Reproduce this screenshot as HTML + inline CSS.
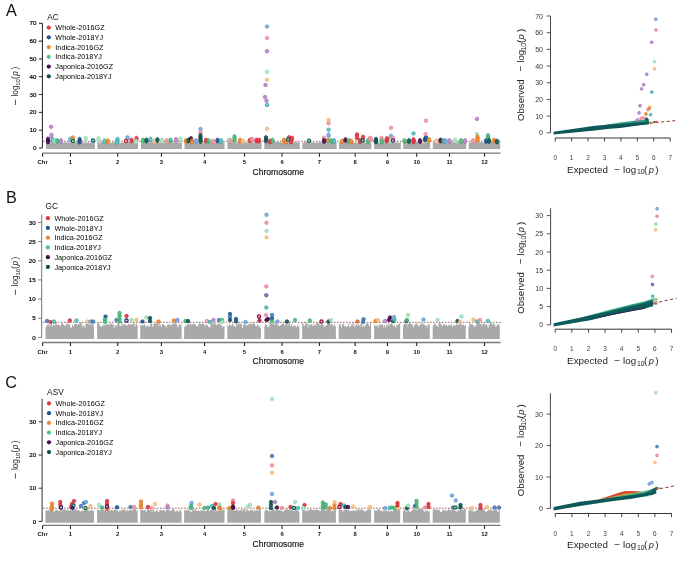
<!DOCTYPE html>
<html><head><meta charset="utf-8"><title>GWAS Manhattan and QQ plots</title>
<style>html,body{margin:0;padding:0;background:#fff;}body{width:685px;height:561px;overflow:hidden;font-family:"Liberation Sans",sans-serif;}svg{display:block;will-change:transform;filter:blur(0.35px);}</style>
</head><body>
<svg width="685" height="561" viewBox="0 0 685 561" font-family='"Liberation Sans", sans-serif'>
<rect width="685" height="561" fill="#ffffff"/>
<text x="5.9" y="16.0" font-size="16.2" text-anchor="start" font-weight="normal" fill="#111" >A</text>
<text x="6.0" y="202.8" font-size="16.2" text-anchor="start" font-weight="normal" fill="#111" >B</text>
<text x="5.3" y="388.3" font-size="16.2" text-anchor="start" font-weight="normal" fill="#111" >C</text>
<polygon points="46.00,149.0 46.00,142.27 46.48,142.27 46.48,142.43 46.99,142.43 46.99,142.44 47.53,142.44 47.53,142.29 48.64,142.29 48.64,142.36 49.77,142.36 49.77,142.41 50.43,142.41 50.43,142.44 51.09,142.44 51.09,142.77 51.95,142.77 51.95,142.65 52.78,142.65 52.78,142.37 53.38,142.37 53.38,142.48 54.05,142.48 54.05,142.28 54.71,142.28 54.71,142.48 55.33,142.48 55.33,142.41 56.39,142.41 56.39,142.50 57.53,142.50 57.53,142.18 58.51,142.18 58.51,142.14 58.98,142.14 58.98,142.27 59.83,142.27 59.83,142.35 60.77,142.35 60.77,142.30 61.54,142.30 61.54,142.61 62.32,142.61 62.32,142.46 63.26,142.46 63.26,142.52 64.29,142.52 64.29,142.33 65.21,142.33 65.21,142.15 65.77,142.15 65.77,142.20 66.76,142.20 66.76,142.42 67.49,142.42 67.49,142.86 68.25,142.86 68.25,142.57 69.27,142.57 69.27,142.84 70.01,142.84 70.01,142.39 71.13,142.39 71.13,142.11 71.75,142.11 71.75,142.19 72.61,142.19 72.61,143.16 73.32,143.16 73.32,142.40 74.25,142.40 74.25,142.31 75.17,142.31 75.17,142.16 76.17,142.16 76.17,142.40 76.90,142.40 76.90,142.10 77.79,142.10 77.79,142.11 78.39,142.11 78.39,142.22 78.87,142.22 78.87,142.21 79.39,142.21 79.39,143.61 80.27,143.61 80.27,142.28 80.97,142.28 80.97,142.37 82.01,142.37 82.01,142.70 82.80,142.70 82.80,142.20 83.49,142.20 83.49,142.40 84.05,142.40 84.05,142.44 84.87,142.44 84.87,142.42 85.34,142.42 85.34,142.55 86.40,142.55 86.40,142.69 87.10,142.69 87.10,142.31 87.92,142.31 87.92,142.46 88.53,142.46 88.53,142.51 89.58,142.51 89.58,142.65 90.55,142.65 90.55,142.24 91.24,142.24 91.24,143.02 91.88,143.02 91.88,142.45 92.64,142.45 92.64,142.57 93.76,142.57 93.76,142.10 94.37,142.10 94.37,142.10 94.90,142.10 94.90,149.0" fill="#a9a9a9"/>
<polygon points="97.30,149.0 97.30,142.54 98.30,142.54 98.30,142.53 98.87,142.53 98.87,142.56 99.88,142.56 99.88,142.85 100.61,142.85 100.61,142.77 101.18,142.77 101.18,142.13 102.27,142.13 102.27,142.30 103.30,142.30 103.30,142.62 103.99,142.62 103.99,142.33 104.45,142.33 104.45,142.70 105.27,142.70 105.27,142.71 106.33,142.71 106.33,142.70 106.96,142.70 106.96,142.31 107.82,142.31 107.82,142.21 108.36,142.21 108.36,142.69 109.13,142.69 109.13,142.61 109.87,142.61 109.87,142.90 110.70,142.90 110.70,143.18 111.27,143.18 111.27,142.27 111.84,142.27 111.84,142.35 112.68,142.35 112.68,142.23 113.52,142.23 113.52,142.41 114.36,142.41 114.36,142.11 115.36,142.11 115.36,142.37 116.34,142.37 116.34,142.62 117.22,142.62 117.22,142.14 118.15,142.14 118.15,142.20 118.94,142.20 118.94,142.73 120.00,142.73 120.00,142.81 120.84,142.81 120.84,142.90 121.39,142.90 121.39,142.45 121.89,142.45 121.89,142.45 122.81,142.45 122.81,142.58 123.36,142.58 123.36,142.46 123.91,142.46 123.91,142.66 124.52,142.66 124.52,142.85 125.31,142.85 125.31,142.90 125.87,142.90 125.87,142.38 126.56,142.38 126.56,142.17 127.51,142.17 127.51,142.10 128.27,142.10 128.27,142.10 129.16,142.10 129.16,142.13 130.30,142.13 130.30,142.54 130.82,142.54 130.82,142.34 131.82,142.34 131.82,142.29 132.56,142.29 132.56,142.61 133.19,142.61 133.19,142.19 134.04,142.19 134.04,142.60 134.53,142.60 134.53,142.63 135.04,142.63 135.04,142.87 136.05,142.87 136.05,142.42 136.54,142.42 136.54,142.86 137.23,142.86 137.23,142.55 137.87,142.55 137.87,142.22 138.10,142.22 138.10,149.0" fill="#a9a9a9"/>
<polygon points="141.00,149.0 141.00,142.54 141.80,142.54 141.80,142.33 142.26,142.33 142.26,143.47 143.10,143.47 143.10,142.18 144.20,142.18 144.20,142.24 144.96,142.24 144.96,142.39 145.68,142.39 145.68,142.38 146.82,142.38 146.82,142.51 147.76,142.51 147.76,142.73 148.46,142.73 148.46,142.37 148.96,142.37 148.96,142.60 149.52,142.60 149.52,142.28 150.58,142.28 150.58,142.45 151.20,142.45 151.20,142.14 151.76,142.14 151.76,142.18 152.88,142.18 152.88,142.78 153.50,142.78 153.50,142.77 154.20,142.77 154.20,142.14 154.99,142.14 154.99,142.22 155.79,142.22 155.79,142.10 156.30,142.10 156.30,142.15 156.77,142.15 156.77,142.10 157.63,142.10 157.63,142.16 158.54,142.16 158.54,142.53 159.26,142.53 159.26,142.40 159.81,142.40 159.81,142.62 160.30,142.62 160.30,142.70 161.18,142.70 161.18,142.67 161.73,142.67 161.73,142.53 162.77,142.53 162.77,142.58 163.63,142.58 163.63,142.68 164.56,142.68 164.56,142.44 165.10,142.44 165.10,142.49 166.14,142.49 166.14,142.49 167.03,142.49 167.03,142.58 167.48,142.58 167.48,142.64 168.28,142.64 168.28,142.25 168.78,142.25 168.78,142.29 169.28,142.29 169.28,142.10 169.87,142.10 169.87,142.36 170.67,142.36 170.67,142.22 171.60,142.22 171.60,142.44 172.50,142.44 172.50,142.19 173.13,142.19 173.13,142.55 173.97,142.55 173.97,142.13 174.61,142.13 174.61,142.29 175.53,142.29 175.53,142.20 176.31,142.20 176.31,142.41 177.39,142.41 177.39,142.34 178.49,142.34 178.49,142.48 179.51,142.48 179.51,142.90 180.15,142.90 180.15,142.30 180.75,142.30 180.75,142.40 181.57,142.40 181.57,142.76 181.90,142.76 181.90,149.0" fill="#a9a9a9"/>
<polygon points="184.50,149.0 184.50,143.23 185.27,143.23 185.27,142.47 185.96,142.47 185.96,142.49 186.41,142.49 186.41,142.72 186.94,142.72 186.94,142.88 188.02,142.88 188.02,142.39 188.75,142.39 188.75,142.73 189.45,142.73 189.45,142.22 189.93,142.22 189.93,142.19 190.58,142.19 190.58,142.80 191.22,142.80 191.22,142.43 191.93,142.43 191.93,142.66 192.95,142.66 192.95,142.31 194.06,142.31 194.06,142.15 194.54,142.15 194.54,142.25 195.52,142.25 195.52,142.38 196.00,142.38 196.00,142.75 196.78,142.75 196.78,142.32 197.75,142.32 197.75,142.67 198.66,142.67 198.66,142.26 199.39,142.26 199.39,142.25 199.98,142.25 199.98,142.70 200.59,142.70 200.59,142.80 201.35,142.80 201.35,142.52 201.87,142.52 201.87,142.57 202.48,142.57 202.48,142.40 203.55,142.40 203.55,142.54 204.29,142.54 204.29,142.43 204.98,142.43 204.98,142.27 206.11,142.27 206.11,142.27 207.00,142.27 207.00,142.72 207.64,142.72 207.64,142.20 208.40,142.20 208.40,142.47 209.46,142.47 209.46,142.10 210.41,142.10 210.41,142.58 211.27,142.58 211.27,142.13 212.37,142.13 212.37,142.61 213.50,142.61 213.50,142.11 214.06,142.11 214.06,142.22 215.17,142.22 215.17,142.64 216.15,142.64 216.15,142.53 216.63,142.53 216.63,142.72 217.72,142.72 217.72,142.63 218.26,142.63 218.26,142.38 219.20,142.38 219.20,142.20 220.02,142.20 220.02,142.47 220.62,142.47 220.62,143.04 221.40,143.04 221.40,142.88 222.47,142.88 222.47,142.28 223.09,142.28 223.09,142.64 223.75,142.64 223.75,142.10 224.60,142.10 224.60,149.0" fill="#a9a9a9"/>
<polygon points="227.40,149.0 227.40,142.15 228.33,142.15 228.33,142.27 229.30,142.27 229.30,142.41 230.42,142.41 230.42,142.19 231.04,142.19 231.04,142.22 231.69,142.22 231.69,142.80 232.27,142.80 232.27,142.36 233.19,142.36 233.19,142.83 233.91,142.83 233.91,142.40 234.46,142.40 234.46,142.44 235.19,142.44 235.19,142.87 236.15,142.87 236.15,142.72 236.83,142.72 236.83,142.10 237.80,142.10 237.80,142.10 238.52,142.10 238.52,142.13 239.09,142.13 239.09,142.10 239.78,142.10 239.78,142.59 240.91,142.59 240.91,142.34 241.93,142.34 241.93,142.69 242.42,142.69 242.42,142.37 243.51,142.37 243.51,142.26 244.59,142.26 244.59,142.33 245.61,142.33 245.61,142.61 246.08,142.61 246.08,142.30 246.71,142.30 246.71,142.68 247.40,142.68 247.40,142.44 248.28,142.44 248.28,142.26 248.95,142.26 248.95,143.50 250.05,143.50 250.05,142.24 250.51,142.24 250.51,142.10 251.63,142.10 251.63,142.54 252.26,142.54 252.26,142.20 253.36,142.20 253.36,142.38 254.32,142.38 254.32,142.76 255.20,142.76 255.20,142.33 255.90,142.33 255.90,142.62 256.49,142.62 256.49,142.63 256.99,142.63 256.99,142.31 257.66,142.31 257.66,142.79 258.81,142.79 258.81,142.30 259.32,142.30 259.32,142.46 260.09,142.46 260.09,142.36 260.97,142.36 260.97,142.39 261.60,142.39 261.60,149.0" fill="#a9a9a9"/>
<polygon points="264.30,149.0 264.30,142.45 264.92,142.45 264.92,142.10 265.99,142.10 265.99,142.28 266.72,142.28 266.72,142.82 267.33,142.82 267.33,142.69 268.48,142.69 268.48,142.38 269.50,142.38 269.50,142.84 269.98,142.84 269.98,142.43 270.56,142.43 270.56,142.77 271.66,142.77 271.66,142.33 272.42,142.33 272.42,142.40 273.54,142.40 273.54,142.30 274.42,142.30 274.42,142.31 274.97,142.31 274.97,142.29 275.84,142.29 275.84,142.33 276.30,142.33 276.30,142.10 276.88,142.10 276.88,142.10 277.88,142.10 277.88,142.28 278.40,142.28 278.40,142.24 279.30,142.24 279.30,142.14 280.24,142.14 280.24,142.31 280.90,142.31 280.90,142.74 281.75,142.74 281.75,142.18 282.81,142.18 282.81,142.72 283.39,142.72 283.39,142.61 283.85,142.61 283.85,142.85 284.87,142.85 284.87,142.49 285.64,142.49 285.64,143.29 286.54,143.29 286.54,142.88 287.43,142.88 287.43,142.29 287.98,142.29 287.98,142.18 289.08,142.18 289.08,142.28 290.09,142.28 290.09,142.79 290.63,142.79 290.63,142.70 291.42,142.70 291.42,142.19 292.14,142.19 292.14,142.61 293.17,142.61 293.17,142.10 293.77,142.10 293.77,142.10 294.80,142.10 294.80,142.17 295.53,142.17 295.53,142.37 296.07,142.37 296.07,142.24 297.15,142.24 297.15,142.28 298.13,142.28 298.13,142.27 298.66,142.27 298.66,142.39 299.55,142.39 299.55,142.25 299.80,142.25 299.80,149.0" fill="#a9a9a9"/>
<polygon points="302.30,149.0 302.30,142.41 303.28,142.41 303.28,142.45 303.86,142.45 303.86,142.24 304.40,142.24 304.40,142.18 305.16,142.18 305.16,142.10 306.05,142.10 306.05,142.10 307.05,142.10 307.05,142.35 307.85,142.35 307.85,142.25 308.40,142.25 308.40,142.60 309.36,142.60 309.36,142.67 310.50,142.67 310.50,142.30 311.59,142.30 311.59,142.25 312.69,142.25 312.69,142.32 313.67,142.32 313.67,142.35 314.31,142.35 314.31,142.83 315.11,142.83 315.11,142.90 315.75,142.90 315.75,142.47 316.22,142.47 316.22,142.26 317.33,142.26 317.33,142.46 317.90,142.46 317.90,142.45 318.72,142.45 318.72,142.18 319.78,142.18 319.78,142.27 320.85,142.27 320.85,142.13 321.74,142.13 321.74,142.24 322.37,142.24 322.37,142.81 323.08,142.81 323.08,142.58 323.65,142.58 323.65,142.47 324.67,142.47 324.67,142.20 325.81,142.20 325.81,142.45 326.48,142.45 326.48,142.23 327.04,142.23 327.04,142.52 327.84,142.52 327.84,142.90 328.45,142.90 328.45,142.74 329.15,142.74 329.15,142.38 329.76,142.38 329.76,142.53 330.35,142.53 330.35,142.56 330.90,142.56 330.90,142.76 331.45,142.76 331.45,142.12 332.51,142.12 332.51,142.36 333.15,142.36 333.15,142.10 333.99,142.10 333.99,142.16 334.75,142.16 334.75,142.57 335.37,142.57 335.37,142.64 336.20,142.64 336.20,142.35 336.60,142.35 336.60,149.0" fill="#a9a9a9"/>
<polygon points="339.00,149.0 339.00,142.19 339.90,142.19 339.90,142.46 340.57,142.46 340.57,142.18 341.64,142.18 341.64,142.57 342.09,142.57 342.09,142.74 342.87,142.74 342.87,142.80 343.48,142.80 343.48,142.48 343.95,142.48 343.95,142.45 344.89,142.45 344.89,142.69 345.53,142.69 345.53,142.46 346.53,142.46 346.53,142.33 347.43,142.33 347.43,142.60 348.49,142.60 348.49,142.22 349.11,142.22 349.11,142.55 350.08,142.55 350.08,142.18 350.76,142.18 350.76,142.13 351.65,142.13 351.65,142.42 352.79,142.42 352.79,142.21 353.73,142.21 353.73,142.59 354.68,142.59 354.68,142.60 355.28,142.60 355.28,142.68 356.37,142.68 356.37,142.85 357.47,142.85 357.47,142.45 357.94,142.45 357.94,142.32 358.83,142.32 358.83,142.35 359.33,142.35 359.33,142.20 360.35,142.20 360.35,142.47 360.85,142.47 360.85,142.55 361.96,142.55 361.96,142.11 362.49,142.11 362.49,142.14 363.51,142.14 363.51,142.51 364.40,142.51 364.40,142.26 364.92,142.26 364.92,142.46 365.59,142.46 365.59,143.00 366.24,143.00 366.24,142.56 366.91,142.56 366.91,142.87 367.96,142.87 367.96,142.54 368.70,142.54 368.70,142.50 369.39,142.50 369.39,142.72 369.99,142.72 369.99,142.79 371.02,142.79 371.02,142.94 371.30,142.94 371.30,149.0" fill="#a9a9a9"/>
<polygon points="374.10,149.0 374.10,142.25 375.13,142.25 375.13,142.10 375.78,142.10 375.78,142.10 376.58,142.10 376.58,142.14 377.09,142.14 377.09,142.61 378.09,142.61 378.09,142.49 378.82,142.49 378.82,142.26 379.33,142.26 379.33,142.95 379.96,142.95 379.96,142.70 380.68,142.70 380.68,142.73 381.45,142.73 381.45,142.46 382.43,142.46 382.43,142.67 383.11,142.67 383.11,142.52 384.02,142.52 384.02,142.64 384.78,142.64 384.78,142.47 385.32,142.47 385.32,142.24 385.93,142.24 385.93,142.20 386.87,142.20 386.87,142.60 387.43,142.60 387.43,142.19 388.25,142.19 388.25,142.17 388.83,142.17 388.83,142.70 389.35,142.70 389.35,142.64 390.07,142.64 390.07,142.53 391.03,142.53 391.03,142.10 391.93,142.10 391.93,142.24 392.65,142.24 392.65,142.34 393.66,142.34 393.66,142.56 394.55,142.56 394.55,142.43 395.42,142.43 395.42,142.40 396.51,142.40 396.51,142.35 397.48,142.35 397.48,142.51 398.44,142.51 398.44,142.89 399.38,142.89 399.38,142.62 400.28,142.62 400.28,142.21 400.80,142.21 400.80,149.0" fill="#a9a9a9"/>
<polygon points="403.20,149.0 403.20,142.21 404.09,142.21 404.09,142.20 405.19,142.20 405.19,142.10 406.18,142.10 406.18,142.12 407.31,142.12 407.31,142.36 407.88,142.36 407.88,142.77 408.69,142.77 408.69,142.37 409.52,142.37 409.52,142.62 410.42,142.62 410.42,142.72 411.15,142.72 411.15,142.76 412.08,142.76 412.08,142.30 412.62,142.30 412.62,142.84 413.11,142.84 413.11,142.41 413.57,142.41 413.57,142.46 414.51,142.46 414.51,142.22 415.11,142.22 415.11,142.35 415.93,142.35 415.93,142.10 416.66,142.10 416.66,142.10 417.65,142.10 417.65,142.40 418.43,142.40 418.43,142.38 419.55,142.38 419.55,142.42 420.58,142.42 420.58,142.58 421.23,142.58 421.23,142.38 422.27,142.38 422.27,142.40 422.90,142.40 422.90,142.41 423.65,142.41 423.65,143.46 424.30,143.46 424.30,142.45 425.08,142.45 425.08,142.53 425.99,142.53 425.99,142.27 427.04,142.27 427.04,142.10 428.13,142.10 428.13,142.45 429.16,142.45 429.16,142.75 430.20,142.75 430.20,149.0" fill="#a9a9a9"/>
<polygon points="432.80,149.0 432.80,142.10 433.88,142.10 433.88,142.40 434.96,142.40 434.96,142.27 435.87,142.27 435.87,142.74 436.91,142.74 436.91,142.29 437.73,142.29 437.73,142.54 438.80,142.54 438.80,142.46 439.42,142.46 439.42,142.21 439.91,142.21 439.91,142.30 440.70,142.30 440.70,142.47 441.75,142.47 441.75,142.43 442.53,142.43 442.53,142.56 443.57,142.56 443.57,142.52 444.69,142.52 444.69,142.19 445.59,142.19 445.59,142.11 446.52,142.11 446.52,142.63 447.65,142.63 447.65,142.22 448.73,142.22 448.73,142.25 449.62,142.25 449.62,142.21 450.32,142.21 450.32,142.18 451.31,142.18 451.31,142.13 452.06,142.13 452.06,142.20 452.72,142.20 452.72,142.39 453.52,142.39 453.52,142.25 454.65,142.25 454.65,142.57 455.33,142.57 455.33,142.39 456.19,142.39 456.19,142.67 456.67,142.67 456.67,142.72 457.50,142.72 457.50,142.26 457.96,142.26 457.96,142.24 458.83,142.24 458.83,142.55 459.92,142.55 459.92,142.48 460.81,142.48 460.81,142.60 461.73,142.60 461.73,142.43 462.51,142.43 462.51,142.56 463.08,142.56 463.08,142.14 464.17,142.14 464.17,142.35 465.20,142.35 465.20,142.29 465.83,142.29 465.83,142.10 466.20,142.10 466.20,149.0" fill="#a9a9a9"/>
<polygon points="468.80,149.0 468.80,142.20 469.65,142.20 469.65,142.76 470.11,142.76 470.11,142.39 471.22,142.39 471.22,142.79 471.96,142.79 471.96,142.26 472.56,142.26 472.56,142.74 473.48,142.74 473.48,142.11 474.00,142.11 474.00,142.40 474.46,142.40 474.46,142.21 475.42,142.21 475.42,142.10 476.41,142.10 476.41,142.47 477.38,142.47 477.38,142.15 478.32,142.15 478.32,142.29 478.95,142.29 478.95,142.72 479.41,142.72 479.41,142.17 480.43,142.17 480.43,142.10 481.39,142.10 481.39,142.29 482.18,142.29 482.18,142.46 483.03,142.46 483.03,142.55 483.58,142.55 483.58,142.72 484.49,142.72 484.49,142.54 485.21,142.54 485.21,142.67 486.21,142.67 486.21,142.42 486.70,142.42 486.70,142.75 487.73,142.75 487.73,142.41 488.86,142.41 488.86,142.73 489.53,142.73 489.53,142.28 490.24,142.28 490.24,142.30 491.32,142.30 491.32,142.42 491.77,142.42 491.77,142.11 492.63,142.11 492.63,142.42 493.11,142.42 493.11,142.46 494.17,142.46 494.17,142.41 495.21,142.41 495.21,142.54 496.30,142.54 496.30,142.10 497.14,142.10 497.14,142.49 498.11,142.49 498.11,142.78 498.99,142.78 498.99,142.59 499.58,142.59 499.58,142.40 500.20,142.40 500.20,149.0" fill="#a9a9a9"/>
<line x1="43" y1="141.3" x2="501.2" y2="141.3" stroke="#8c4038" stroke-width="0.8" stroke-dasharray="1.6,1.4"/>
<line x1="42.4" y1="23.3" x2="42.4" y2="148.0" stroke="#222" stroke-width="1"/>
<line x1="38.9" y1="148.00" x2="42.4" y2="148.00" stroke="#222" stroke-width="1"/>
<text x="36.4" y="150.1" font-size="6.2" text-anchor="end" font-weight="normal" fill="#000" stroke="#000" stroke-width="0.2">0</text>
<line x1="38.9" y1="130.19" x2="42.4" y2="130.19" stroke="#222" stroke-width="1"/>
<text x="36.4" y="132.28571428571428" font-size="6.2" text-anchor="end" font-weight="normal" fill="#000" stroke="#000" stroke-width="0.2">10</text>
<line x1="38.9" y1="112.37" x2="42.4" y2="112.37" stroke="#222" stroke-width="1"/>
<text x="36.4" y="114.47142857142856" font-size="6.2" text-anchor="end" font-weight="normal" fill="#000" stroke="#000" stroke-width="0.2">20</text>
<line x1="38.9" y1="94.56" x2="42.4" y2="94.56" stroke="#222" stroke-width="1"/>
<text x="36.4" y="96.65714285714284" font-size="6.2" text-anchor="end" font-weight="normal" fill="#000" stroke="#000" stroke-width="0.2">30</text>
<line x1="38.9" y1="76.74" x2="42.4" y2="76.74" stroke="#222" stroke-width="1"/>
<text x="36.4" y="78.84285714285714" font-size="6.2" text-anchor="end" font-weight="normal" fill="#000" stroke="#000" stroke-width="0.2">40</text>
<line x1="38.9" y1="58.93" x2="42.4" y2="58.93" stroke="#222" stroke-width="1"/>
<text x="36.4" y="61.02857142857143" font-size="6.2" text-anchor="end" font-weight="normal" fill="#000" stroke="#000" stroke-width="0.2">50</text>
<line x1="38.9" y1="41.11" x2="42.4" y2="41.11" stroke="#222" stroke-width="1"/>
<text x="36.4" y="43.214285714285715" font-size="6.2" text-anchor="end" font-weight="normal" fill="#000" stroke="#000" stroke-width="0.2">60</text>
<line x1="38.9" y1="23.30" x2="42.4" y2="23.30" stroke="#222" stroke-width="1"/>
<text x="36.4" y="25.400000000000013" font-size="6.2" text-anchor="end" font-weight="normal" fill="#000" stroke="#000" stroke-width="0.2">70</text>
<line x1="42.6" y1="153.2" x2="500.6" y2="153.2" stroke="#7a7a7a" stroke-width="1.3"/>
<line x1="42.60" y1="153.2" x2="42.60" y2="156.7" stroke="#222" stroke-width="1.1"/>
<text transform="translate(42.60,164.20) scale(0.95,1)" font-size="6.2" text-anchor="middle" font-weight="bold" fill="#111">Chr</text>
<line x1="70.45" y1="153.2" x2="70.45" y2="156.7" stroke="#222" stroke-width="1.1"/>
<text transform="translate(70.45,164.20) scale(0.95,1)" font-size="6.2" text-anchor="middle" font-weight="bold" fill="#111">1</text>
<line x1="117.70" y1="153.2" x2="117.70" y2="156.7" stroke="#222" stroke-width="1.1"/>
<text transform="translate(117.70,164.20) scale(0.95,1)" font-size="6.2" text-anchor="middle" font-weight="bold" fill="#111">2</text>
<line x1="161.45" y1="153.2" x2="161.45" y2="156.7" stroke="#222" stroke-width="1.1"/>
<text transform="translate(161.45,164.20) scale(0.95,1)" font-size="6.2" text-anchor="middle" font-weight="bold" fill="#111">3</text>
<line x1="204.55" y1="153.2" x2="204.55" y2="156.7" stroke="#222" stroke-width="1.1"/>
<text transform="translate(204.55,164.20) scale(0.95,1)" font-size="6.2" text-anchor="middle" font-weight="bold" fill="#111">4</text>
<line x1="244.50" y1="153.2" x2="244.50" y2="156.7" stroke="#222" stroke-width="1.1"/>
<text transform="translate(244.50,164.20) scale(0.95,1)" font-size="6.2" text-anchor="middle" font-weight="bold" fill="#111">5</text>
<line x1="282.05" y1="153.2" x2="282.05" y2="156.7" stroke="#222" stroke-width="1.1"/>
<text transform="translate(282.05,164.20) scale(0.95,1)" font-size="6.2" text-anchor="middle" font-weight="bold" fill="#111">6</text>
<line x1="319.45" y1="153.2" x2="319.45" y2="156.7" stroke="#222" stroke-width="1.1"/>
<text transform="translate(319.45,164.20) scale(0.95,1)" font-size="6.2" text-anchor="middle" font-weight="bold" fill="#111">7</text>
<line x1="355.15" y1="153.2" x2="355.15" y2="156.7" stroke="#222" stroke-width="1.1"/>
<text transform="translate(355.15,164.20) scale(0.95,1)" font-size="6.2" text-anchor="middle" font-weight="bold" fill="#111">8</text>
<line x1="387.45" y1="153.2" x2="387.45" y2="156.7" stroke="#222" stroke-width="1.1"/>
<text transform="translate(387.45,164.20) scale(0.95,1)" font-size="6.2" text-anchor="middle" font-weight="bold" fill="#111">9</text>
<line x1="416.70" y1="153.2" x2="416.70" y2="156.7" stroke="#222" stroke-width="1.1"/>
<text transform="translate(416.70,164.20) scale(0.95,1)" font-size="6.2" text-anchor="middle" font-weight="bold" fill="#111">10</text>
<line x1="449.50" y1="153.2" x2="449.50" y2="156.7" stroke="#222" stroke-width="1.1"/>
<text transform="translate(449.50,164.20) scale(0.95,1)" font-size="6.2" text-anchor="middle" font-weight="bold" fill="#111">11</text>
<line x1="484.50" y1="153.2" x2="484.50" y2="156.7" stroke="#222" stroke-width="1.1"/>
<text transform="translate(484.50,164.20) scale(0.95,1)" font-size="6.2" text-anchor="middle" font-weight="bold" fill="#111">12</text>
<text transform="translate(278.2,174.80) scale(0.955,1)" font-size="9.0" text-anchor="middle" fill="#111" stroke="#111" stroke-width="0.15">Chromosome</text>
<g transform="translate(18.1,105.10) rotate(-90)" fill="#222">
<line x1="0.1" y1="-2.7" x2="5.4" y2="-2.7" stroke="#333" stroke-width="0.85"/>
<text x="8.6" y="0" font-size="8.3">log</text>
<text x="19.4" y="1.5" font-size="5.9">10</text>
<text x="26.2" y="0" font-size="8.2">(</text>
<text x="29.4" y="0" font-size="8.2" font-style="italic">p</text>
<text x="35.5" y="0" font-size="8.2">)</text>
</g>
<text x="47.3" y="19.9" font-size="8.3" text-anchor="start" font-weight="normal" fill="#111" >AC</text>
<circle cx="48.8" cy="27.60" r="2.1" fill="#e0363c"/>
<text x="55.3" y="30.200000000000003" font-size="7.2" text-anchor="start" font-weight="normal" fill="#000" letter-spacing="0.05">Whole-2016GZ</text>
<circle cx="48.8" cy="37.34" r="2.1" fill="#1d5293"/>
<text x="55.3" y="39.940000000000005" font-size="7.2" text-anchor="start" font-weight="normal" fill="#000" letter-spacing="0.05">Whole-2018YJ</text>
<circle cx="48.8" cy="47.08" r="2.1" fill="#e48b32"/>
<text x="55.3" y="49.68" font-size="7.2" text-anchor="start" font-weight="normal" fill="#000" letter-spacing="0.05">Indica-2016GZ</text>
<circle cx="48.8" cy="56.82" r="2.1" fill="#52c07e"/>
<text x="55.3" y="59.42" font-size="7.2" text-anchor="start" font-weight="normal" fill="#000" letter-spacing="0.05">Indica-2018YJ</text>
<circle cx="48.8" cy="66.56" r="2.1" fill="#3e0b46"/>
<text x="55.3" y="69.16" font-size="7.2" text-anchor="start" font-weight="normal" fill="#000" letter-spacing="0.05">Japonica-2016GZ</text>
<circle cx="48.8" cy="76.30" r="2.1" fill="#0c4a4c"/>
<text x="55.3" y="78.9" font-size="7.2" text-anchor="start" font-weight="normal" fill="#000" letter-spacing="0.05">Japonica-2018YJ</text>
<circle cx="51" cy="126.8" r="1.75" fill="#ba8ace" stroke="#9c6cb2" stroke-width="0.7" fill-opacity="0.92"/>
<ellipse cx="51.5" cy="135.48" rx="1.75" ry="2.55" fill="#ba8ace" stroke="#9c6cb2" stroke-width="0.7" fill-opacity="0.92"/>
<ellipse cx="48" cy="141.48" rx="1.75" ry="2.55" fill="#4c0f52" stroke="#3a0840" stroke-width="0.7" fill-opacity="0.92"/>
<ellipse cx="48" cy="139.48" rx="1.75" ry="2.55" fill="#4c0f52" stroke="#3a0840" stroke-width="0.7" fill-opacity="0.92"/>
<ellipse cx="52.5" cy="139.98" rx="1.75" ry="2.55" fill="#5cc8c8" stroke="#2c9c9c" stroke-width="0.7" fill-opacity="0.92"/>
<ellipse cx="55" cy="140.98" rx="1.75" ry="2.55" fill="#a8e6c2" stroke="#86d4a6" stroke-width="0.7" fill-opacity="0.92"/>
<ellipse cx="57.3" cy="140.98" rx="1.75" ry="2.55" fill="#4dbd7d" stroke="#35a566" stroke-width="0.7" fill-opacity="0.92"/>
<ellipse cx="60.8" cy="140.98" rx="1.75" ry="2.55" fill="#ba8ace" stroke="#9c6cb2" stroke-width="0.7" fill-opacity="0.92"/>
<ellipse cx="70.3" cy="139.48" rx="1.75" ry="2.55" fill="#7aaee4" stroke="#5b8ccb" stroke-width="0.7" fill-opacity="0.92"/>
<ellipse cx="72.8" cy="138.18" rx="1.75" ry="2.55" fill="#ee8b2c" stroke="#d8761c" stroke-width="0.7" fill-opacity="0.92"/>
<circle cx="73" cy="141" r="1.65" fill="#8ad6a0" stroke="#1f6a3a" stroke-width="1.1199999999999999" fill-opacity="0.92"/>
<ellipse cx="79.6" cy="139.68" rx="1.75" ry="2.55" fill="#1c5a9c" stroke="#134a84" stroke-width="0.7" fill-opacity="0.92"/>
<ellipse cx="79.6" cy="141.78" rx="1.75" ry="2.55" fill="#1c5a9c" stroke="#134a84" stroke-width="0.7" fill-opacity="0.92"/>
<ellipse cx="85.7" cy="138.48" rx="1.75" ry="2.55" fill="#a8e6c2" stroke="#86d4a6" stroke-width="0.7" fill-opacity="0.92"/>
<circle cx="93" cy="140.5" r="1.65" fill="#6fd6d6" stroke="#0e5a5a" stroke-width="1.1199999999999999" fill-opacity="0.92"/>
<ellipse cx="98.5" cy="138.98" rx="1.75" ry="2.55" fill="#a8e6c2" stroke="#86d4a6" stroke-width="0.7" fill-opacity="0.92"/>
<ellipse cx="104.5" cy="141.28" rx="1.75" ry="2.55" fill="#5cc8c8" stroke="#2c9c9c" stroke-width="0.7" fill-opacity="0.92"/>
<ellipse cx="107.8" cy="141.28" rx="1.75" ry="2.55" fill="#ee8b2c" stroke="#d8761c" stroke-width="0.7" fill-opacity="0.92"/>
<ellipse cx="117.5" cy="139.68" rx="1.75" ry="2.55" fill="#5cc8c8" stroke="#2c9c9c" stroke-width="0.7" fill-opacity="0.92"/>
<ellipse cx="117" cy="141.98" rx="1.75" ry="2.55" fill="#5cc8c8" stroke="#2c9c9c" stroke-width="0.7" fill-opacity="0.92"/>
<ellipse cx="127.5" cy="137.98" rx="1.75" ry="2.55" fill="#7aaee4" stroke="#5b8ccb" stroke-width="0.7" fill-opacity="0.92"/>
<circle cx="126" cy="141" r="1.65" fill="#f4b0b6" stroke="#b8283a" stroke-width="1.1199999999999999" fill-opacity="0.92"/>
<ellipse cx="131.5" cy="140.48" rx="1.75" ry="2.55" fill="#e8353d" stroke="#c92a32" stroke-width="0.7" fill-opacity="0.92"/>
<ellipse cx="136.5" cy="138.68" rx="1.75" ry="2.55" fill="#e8353d" stroke="#c92a32" stroke-width="0.7" fill-opacity="0.92"/>
<ellipse cx="136" cy="141.48" rx="1.75" ry="2.55" fill="#a8e6c2" stroke="#86d4a6" stroke-width="0.7" fill-opacity="0.92"/>
<ellipse cx="143" cy="140.48" rx="1.75" ry="2.55" fill="#4dbd7d" stroke="#35a566" stroke-width="0.7" fill-opacity="0.92"/>
<ellipse cx="146.5" cy="140.48" rx="1.75" ry="2.55" fill="#0f5a5a" stroke="#0a4444" stroke-width="0.7" fill-opacity="0.92"/>
<ellipse cx="150.5" cy="139.48" rx="1.75" ry="2.55" fill="#5cc8c8" stroke="#2c9c9c" stroke-width="0.7" fill-opacity="0.92"/>
<ellipse cx="155" cy="140.98" rx="1.75" ry="2.55" fill="#f7c48e" stroke="#efac6a" stroke-width="0.7" fill-opacity="0.92"/>
<ellipse cx="157.5" cy="139.98" rx="1.75" ry="2.55" fill="#0f5a5a" stroke="#0a4444" stroke-width="0.7" fill-opacity="0.92"/>
<ellipse cx="162" cy="140.48" rx="1.75" ry="2.55" fill="#a8e6c2" stroke="#86d4a6" stroke-width="0.7" fill-opacity="0.92"/>
<ellipse cx="166.5" cy="140.98" rx="1.75" ry="2.55" fill="#f29aa2" stroke="#e27c86" stroke-width="0.7" fill-opacity="0.92"/>
<ellipse cx="170.5" cy="140.48" rx="1.75" ry="2.55" fill="#4dbd7d" stroke="#35a566" stroke-width="0.7" fill-opacity="0.92"/>
<ellipse cx="176" cy="139.98" rx="1.75" ry="2.55" fill="#ba8ace" stroke="#9c6cb2" stroke-width="0.7" fill-opacity="0.92"/>
<ellipse cx="180.5" cy="139.48" rx="1.75" ry="2.55" fill="#a8e6c2" stroke="#86d4a6" stroke-width="0.7" fill-opacity="0.92"/>
<ellipse cx="186" cy="140.98" rx="1.75" ry="2.55" fill="#ee8b2c" stroke="#d8761c" stroke-width="0.7" fill-opacity="0.92"/>
<ellipse cx="188.5" cy="140.48" rx="1.75" ry="2.55" fill="#0f5a5a" stroke="#0a4444" stroke-width="0.7" fill-opacity="0.92"/>
<ellipse cx="191" cy="138.98" rx="1.75" ry="2.55" fill="#4c0f52" stroke="#3a0840" stroke-width="0.7" fill-opacity="0.92"/>
<ellipse cx="192" cy="141.48" rx="1.75" ry="2.55" fill="#ee8b2c" stroke="#d8761c" stroke-width="0.7" fill-opacity="0.92"/>
<ellipse cx="196" cy="140.98" rx="1.75" ry="2.55" fill="#7aaee4" stroke="#5b8ccb" stroke-width="0.7" fill-opacity="0.92"/>
<circle cx="200.5" cy="129" r="1.75" fill="#7aaee4" stroke="#5b8ccb" stroke-width="0.7" fill-opacity="0.92"/>
<circle cx="200.5" cy="132.5" r="1.75" fill="#f29aa2" stroke="#e27c86" stroke-width="0.7" fill-opacity="0.92"/>
<ellipse cx="200.5" cy="135.98" rx="1.75" ry="2.55" fill="#0f5a5a" stroke="#0a4444" stroke-width="0.7" fill-opacity="0.92"/>
<ellipse cx="200.5" cy="138.48" rx="1.75" ry="2.55" fill="#0f5a5a" stroke="#0a4444" stroke-width="0.7" fill-opacity="0.92"/>
<ellipse cx="200.5" cy="140.98" rx="1.75" ry="2.55" fill="#0f5a5a" stroke="#0a4444" stroke-width="0.7" fill-opacity="0.92"/>
<ellipse cx="206" cy="140.48" rx="1.75" ry="2.55" fill="#e8353d" stroke="#c92a32" stroke-width="0.7" fill-opacity="0.92"/>
<ellipse cx="208.5" cy="140.98" rx="1.75" ry="2.55" fill="#4dbd7d" stroke="#35a566" stroke-width="0.7" fill-opacity="0.92"/>
<ellipse cx="213" cy="141.48" rx="1.75" ry="2.55" fill="#f29aa2" stroke="#e27c86" stroke-width="0.7" fill-opacity="0.92"/>
<ellipse cx="217.5" cy="140.48" rx="1.75" ry="2.55" fill="#1c5a9c" stroke="#134a84" stroke-width="0.7" fill-opacity="0.92"/>
<ellipse cx="221" cy="140.98" rx="1.75" ry="2.55" fill="#5cc8c8" stroke="#2c9c9c" stroke-width="0.7" fill-opacity="0.92"/>
<ellipse cx="229" cy="140.48" rx="1.75" ry="2.55" fill="#a8e6c2" stroke="#86d4a6" stroke-width="0.7" fill-opacity="0.92"/>
<ellipse cx="230.5" cy="140.98" rx="1.75" ry="2.55" fill="#f29aa2" stroke="#e27c86" stroke-width="0.7" fill-opacity="0.92"/>
<ellipse cx="234.5" cy="136.98" rx="1.75" ry="2.55" fill="#4dbd7d" stroke="#35a566" stroke-width="0.7" fill-opacity="0.92"/>
<ellipse cx="234.5" cy="139.98" rx="1.75" ry="2.55" fill="#4dbd7d" stroke="#35a566" stroke-width="0.7" fill-opacity="0.92"/>
<ellipse cx="240" cy="140.48" rx="1.75" ry="2.55" fill="#ee8b2c" stroke="#d8761c" stroke-width="0.7" fill-opacity="0.92"/>
<ellipse cx="243" cy="141.48" rx="1.75" ry="2.55" fill="#f7c48e" stroke="#efac6a" stroke-width="0.7" fill-opacity="0.92"/>
<ellipse cx="250" cy="140.48" rx="1.75" ry="2.55" fill="#e8353d" stroke="#c92a32" stroke-width="0.7" fill-opacity="0.92"/>
<ellipse cx="252" cy="139.48" rx="1.75" ry="2.55" fill="#f29aa2" stroke="#e27c86" stroke-width="0.7" fill-opacity="0.92"/>
<ellipse cx="256.5" cy="140.48" rx="1.75" ry="2.55" fill="#e8353d" stroke="#c92a32" stroke-width="0.7" fill-opacity="0.92"/>
<ellipse cx="259" cy="140.48" rx="1.75" ry="2.55" fill="#e8353d" stroke="#c92a32" stroke-width="0.7" fill-opacity="0.92"/>
<circle cx="267" cy="26.6" r="1.75" fill="#7aaee4" stroke="#5b8ccb" stroke-width="0.7" fill-opacity="0.92"/>
<circle cx="267" cy="38.1" r="1.75" fill="#f29aa2" stroke="#e27c86" stroke-width="0.7" fill-opacity="0.92"/>
<circle cx="267" cy="51.2" r="1.75" fill="#ba8ace" stroke="#9c6cb2" stroke-width="0.7" fill-opacity="0.92"/>
<circle cx="267" cy="71.8" r="1.75" fill="#a8e6c2" stroke="#86d4a6" stroke-width="0.7" fill-opacity="0.92"/>
<circle cx="267" cy="79.8" r="1.75" fill="#f7c48e" stroke="#efac6a" stroke-width="0.7" fill-opacity="0.92"/>
<circle cx="265.5" cy="85" r="1.75" fill="#ba8ace" stroke="#9c6cb2" stroke-width="0.7" fill-opacity="0.92"/>
<circle cx="265" cy="97" r="1.75" fill="#ba8ace" stroke="#9c6cb2" stroke-width="0.7" fill-opacity="0.92"/>
<circle cx="266.5" cy="100.8" r="1.75" fill="#ba8ace" stroke="#9c6cb2" stroke-width="0.7" fill-opacity="0.92"/>
<circle cx="267" cy="105" r="1.75" fill="#5cc8c8" stroke="#2c9c9c" stroke-width="0.7" fill-opacity="0.92"/>
<circle cx="267" cy="128.8" r="1.75" fill="#f7c48e" stroke="#efac6a" stroke-width="0.7" fill-opacity="0.92"/>
<ellipse cx="266" cy="137.98" rx="1.75" ry="2.55" fill="#0f5a5a" stroke="#0a4444" stroke-width="0.7" fill-opacity="0.92"/>
<ellipse cx="266" cy="140.48" rx="1.75" ry="2.55" fill="#0f5a5a" stroke="#0a4444" stroke-width="0.7" fill-opacity="0.92"/>
<ellipse cx="270" cy="141.48" rx="1.75" ry="2.55" fill="#e8353d" stroke="#c92a32" stroke-width="0.7" fill-opacity="0.92"/>
<ellipse cx="272.5" cy="140.48" rx="1.75" ry="2.55" fill="#4dbd7d" stroke="#35a566" stroke-width="0.7" fill-opacity="0.92"/>
<ellipse cx="284" cy="140.48" rx="1.75" ry="2.55" fill="#ee8b2c" stroke="#d8761c" stroke-width="0.7" fill-opacity="0.92"/>
<ellipse cx="286" cy="141.98" rx="1.75" ry="2.55" fill="#ee8b2c" stroke="#d8761c" stroke-width="0.7" fill-opacity="0.92"/>
<ellipse cx="289" cy="137.98" rx="1.75" ry="2.55" fill="#e8353d" stroke="#c92a32" stroke-width="0.7" fill-opacity="0.92"/>
<ellipse cx="292" cy="138.48" rx="1.75" ry="2.55" fill="#e8353d" stroke="#c92a32" stroke-width="0.7" fill-opacity="0.92"/>
<circle cx="288" cy="139.5" r="1.65" fill="#6fd6d6" stroke="#0e5a5a" stroke-width="1.1199999999999999" fill-opacity="0.92"/>
<ellipse cx="291" cy="141.48" rx="1.75" ry="2.55" fill="#e8353d" stroke="#c92a32" stroke-width="0.7" fill-opacity="0.92"/>
<circle cx="309" cy="140.7" r="1.65" fill="#6fd6d6" stroke="#0e5a5a" stroke-width="1.1199999999999999" fill-opacity="0.92"/>
<circle cx="328.6" cy="119.9" r="1.75" fill="#f7c48e" stroke="#efac6a" stroke-width="0.7" fill-opacity="0.92"/>
<circle cx="328.6" cy="123.3" r="1.75" fill="#f29aa2" stroke="#e27c86" stroke-width="0.7" fill-opacity="0.92"/>
<circle cx="328.6" cy="129.7" r="1.75" fill="#5cc8c8" stroke="#2c9c9c" stroke-width="0.7" fill-opacity="0.92"/>
<ellipse cx="328.6" cy="135.28" rx="1.75" ry="2.55" fill="#7aaee4" stroke="#5b8ccb" stroke-width="0.7" fill-opacity="0.92"/>
<ellipse cx="324" cy="138.48" rx="1.75" ry="2.55" fill="#f29aa2" stroke="#e27c86" stroke-width="0.7" fill-opacity="0.92"/>
<ellipse cx="324" cy="140.98" rx="1.75" ry="2.55" fill="#4c0f52" stroke="#3a0840" stroke-width="0.7" fill-opacity="0.92"/>
<circle cx="328" cy="140.5" r="1.65" fill="#f0c080" stroke="#8a6a20" stroke-width="1.1199999999999999" fill-opacity="0.92"/>
<ellipse cx="331.5" cy="140.98" rx="1.75" ry="2.55" fill="#4dbd7d" stroke="#35a566" stroke-width="0.7" fill-opacity="0.92"/>
<ellipse cx="334" cy="140.98" rx="1.75" ry="2.55" fill="#5cc8c8" stroke="#2c9c9c" stroke-width="0.7" fill-opacity="0.92"/>
<ellipse cx="342" cy="141.48" rx="1.75" ry="2.55" fill="#ee8b2c" stroke="#d8761c" stroke-width="0.7" fill-opacity="0.92"/>
<ellipse cx="345.5" cy="139.98" rx="1.75" ry="2.55" fill="#4c0f52" stroke="#3a0840" stroke-width="0.7" fill-opacity="0.92"/>
<ellipse cx="349" cy="140.98" rx="1.75" ry="2.55" fill="#4dbd7d" stroke="#35a566" stroke-width="0.7" fill-opacity="0.92"/>
<ellipse cx="351" cy="141.48" rx="1.75" ry="2.55" fill="#ee8b2c" stroke="#d8761c" stroke-width="0.7" fill-opacity="0.92"/>
<circle cx="357" cy="134.5" r="1.75" fill="#e8353d" stroke="#c92a32" stroke-width="0.7" fill-opacity="0.92"/>
<ellipse cx="357" cy="137.48" rx="1.75" ry="2.55" fill="#e8353d" stroke="#c92a32" stroke-width="0.7" fill-opacity="0.92"/>
<ellipse cx="363" cy="137.48" rx="1.75" ry="2.55" fill="#e8353d" stroke="#c92a32" stroke-width="0.7" fill-opacity="0.92"/>
<ellipse cx="360" cy="140.98" rx="1.75" ry="2.55" fill="#e8353d" stroke="#c92a32" stroke-width="0.7" fill-opacity="0.92"/>
<circle cx="362.5" cy="140.5" r="1.65" fill="#6fd6d6" stroke="#0e5a5a" stroke-width="1.1199999999999999" fill-opacity="0.92"/>
<ellipse cx="368" cy="140.98" rx="1.75" ry="2.55" fill="#4dbd7d" stroke="#35a566" stroke-width="0.7" fill-opacity="0.92"/>
<ellipse cx="370" cy="138.48" rx="1.75" ry="2.55" fill="#f29aa2" stroke="#e27c86" stroke-width="0.7" fill-opacity="0.92"/>
<ellipse cx="371" cy="139.48" rx="1.75" ry="2.55" fill="#f29aa2" stroke="#e27c86" stroke-width="0.7" fill-opacity="0.92"/>
<ellipse cx="376" cy="139.68" rx="1.75" ry="2.55" fill="#0f5a5a" stroke="#0a4444" stroke-width="0.7" fill-opacity="0.92"/>
<ellipse cx="376" cy="141.48" rx="1.75" ry="2.55" fill="#0f5a5a" stroke="#0a4444" stroke-width="0.7" fill-opacity="0.92"/>
<ellipse cx="381.5" cy="138.48" rx="1.75" ry="2.55" fill="#f29aa2" stroke="#e27c86" stroke-width="0.7" fill-opacity="0.92"/>
<ellipse cx="382" cy="141.48" rx="1.75" ry="2.55" fill="#4dbd7d" stroke="#35a566" stroke-width="0.7" fill-opacity="0.92"/>
<ellipse cx="386.5" cy="140.48" rx="1.75" ry="2.55" fill="#e8353d" stroke="#c92a32" stroke-width="0.7" fill-opacity="0.92"/>
<ellipse cx="387" cy="138.98" rx="1.75" ry="2.55" fill="#e8353d" stroke="#c92a32" stroke-width="0.7" fill-opacity="0.92"/>
<circle cx="391" cy="127.8" r="1.75" fill="#f29aa2" stroke="#e27c86" stroke-width="0.7" fill-opacity="0.92"/>
<ellipse cx="391" cy="136.48" rx="1.75" ry="2.55" fill="#7aaee4" stroke="#5b8ccb" stroke-width="0.7" fill-opacity="0.92"/>
<ellipse cx="393" cy="138.48" rx="1.75" ry="2.55" fill="#f29aa2" stroke="#e27c86" stroke-width="0.7" fill-opacity="0.92"/>
<ellipse cx="391" cy="140.98" rx="1.75" ry="2.55" fill="#a8e6c2" stroke="#86d4a6" stroke-width="0.7" fill-opacity="0.92"/>
<circle cx="393" cy="140.5" r="1.65" fill="#c8a0d8" stroke="#5a2a6a" stroke-width="1.1199999999999999" fill-opacity="0.92"/>
<ellipse cx="404.5" cy="140.98" rx="1.75" ry="2.55" fill="#4dbd7d" stroke="#35a566" stroke-width="0.7" fill-opacity="0.92"/>
<ellipse cx="409" cy="140.98" rx="1.75" ry="2.55" fill="#0f5a5a" stroke="#0a4444" stroke-width="0.7" fill-opacity="0.92"/>
<ellipse cx="413.5" cy="139.98" rx="1.75" ry="2.55" fill="#e8353d" stroke="#c92a32" stroke-width="0.7" fill-opacity="0.92"/>
<ellipse cx="413.5" cy="141.48" rx="1.75" ry="2.55" fill="#e8353d" stroke="#c92a32" stroke-width="0.7" fill-opacity="0.92"/>
<circle cx="413.5" cy="133.5" r="1.75" fill="#5cc8c8" stroke="#2c9c9c" stroke-width="0.7" fill-opacity="0.92"/>
<ellipse cx="420" cy="140.98" rx="1.75" ry="2.55" fill="#4c0f52" stroke="#3a0840" stroke-width="0.7" fill-opacity="0.92"/>
<ellipse cx="425" cy="139.48" rx="1.75" ry="2.55" fill="#0f5a5a" stroke="#0a4444" stroke-width="0.7" fill-opacity="0.92"/>
<ellipse cx="426" cy="137.98" rx="1.75" ry="2.55" fill="#1c5a9c" stroke="#134a84" stroke-width="0.7" fill-opacity="0.92"/>
<ellipse cx="429" cy="139.98" rx="1.75" ry="2.55" fill="#ee8b2c" stroke="#d8761c" stroke-width="0.7" fill-opacity="0.92"/>
<circle cx="425.5" cy="134" r="1.75" fill="#f29aa2" stroke="#e27c86" stroke-width="0.7" fill-opacity="0.92"/>
<circle cx="426" cy="120.7" r="1.75" fill="#f29aa2" stroke="#e27c86" stroke-width="0.7" fill-opacity="0.92"/>
<ellipse cx="436.5" cy="140.98" rx="1.75" ry="2.55" fill="#f7c48e" stroke="#efac6a" stroke-width="0.7" fill-opacity="0.92"/>
<ellipse cx="440.5" cy="140.48" rx="1.75" ry="2.55" fill="#4c0f52" stroke="#3a0840" stroke-width="0.7" fill-opacity="0.92"/>
<ellipse cx="443.5" cy="140.98" rx="1.75" ry="2.55" fill="#4dbd7d" stroke="#35a566" stroke-width="0.7" fill-opacity="0.92"/>
<ellipse cx="445.5" cy="140.98" rx="1.75" ry="2.55" fill="#7aaee4" stroke="#5b8ccb" stroke-width="0.7" fill-opacity="0.92"/>
<ellipse cx="449.5" cy="140.98" rx="1.75" ry="2.55" fill="#ba8ace" stroke="#9c6cb2" stroke-width="0.7" fill-opacity="0.92"/>
<ellipse cx="455" cy="140.48" rx="1.75" ry="2.55" fill="#a8e6c2" stroke="#86d4a6" stroke-width="0.7" fill-opacity="0.92"/>
<ellipse cx="461" cy="140.98" rx="1.75" ry="2.55" fill="#4dbd7d" stroke="#35a566" stroke-width="0.7" fill-opacity="0.92"/>
<ellipse cx="465" cy="140.98" rx="1.75" ry="2.55" fill="#ba8ace" stroke="#9c6cb2" stroke-width="0.7" fill-opacity="0.92"/>
<ellipse cx="473" cy="140.98" rx="1.75" ry="2.55" fill="#f29aa2" stroke="#e27c86" stroke-width="0.7" fill-opacity="0.92"/>
<circle cx="477" cy="134" r="1.75" fill="#a8e6c2" stroke="#86d4a6" stroke-width="0.7" fill-opacity="0.92"/>
<ellipse cx="477.5" cy="137.28" rx="1.75" ry="2.55" fill="#ee8b2c" stroke="#d8761c" stroke-width="0.7" fill-opacity="0.92"/>
<ellipse cx="477.5" cy="139.98" rx="1.75" ry="2.55" fill="#ee8b2c" stroke="#d8761c" stroke-width="0.7" fill-opacity="0.92"/>
<circle cx="477" cy="118.9" r="1.75" fill="#ba8ace" stroke="#9c6cb2" stroke-width="0.7" fill-opacity="0.92"/>
<ellipse cx="486" cy="140.98" rx="1.75" ry="2.55" fill="#1c5a9c" stroke="#134a84" stroke-width="0.7" fill-opacity="0.92"/>
<ellipse cx="488" cy="135.98" rx="1.75" ry="2.55" fill="#4dbd7d" stroke="#35a566" stroke-width="0.7" fill-opacity="0.92"/>
<ellipse cx="488" cy="138.48" rx="1.75" ry="2.55" fill="#4dbd7d" stroke="#35a566" stroke-width="0.7" fill-opacity="0.92"/>
<ellipse cx="489" cy="140.98" rx="1.75" ry="2.55" fill="#0f5a5a" stroke="#0a4444" stroke-width="0.7" fill-opacity="0.92"/>
<ellipse cx="494" cy="140.48" rx="1.75" ry="2.55" fill="#ee8b2c" stroke="#d8761c" stroke-width="0.7" fill-opacity="0.92"/>
<ellipse cx="497" cy="141.48" rx="1.75" ry="2.55" fill="#0f5a5a" stroke="#0a4444" stroke-width="0.7" fill-opacity="0.92"/>
<polygon points="45.50,338.9 45.50,327.19 46.32,327.19 46.32,325.74 46.90,325.74 46.90,324.90 47.84,324.90 47.84,323.97 48.57,323.97 48.57,324.42 49.05,324.42 49.05,327.32 49.58,327.32 49.58,325.33 50.14,325.33 50.14,324.83 50.95,324.83 50.95,323.44 52.09,323.44 52.09,326.46 52.94,326.46 52.94,322.91 53.69,322.91 53.69,325.23 54.71,325.23 54.71,325.86 55.19,325.86 55.19,322.80 55.70,322.80 55.70,322.80 56.75,322.80 56.75,324.64 57.84,324.64 57.84,324.93 58.57,324.93 58.57,324.50 59.20,324.50 59.20,325.56 60.32,325.56 60.32,325.84 61.08,325.84 61.08,323.37 62.23,323.37 62.23,323.81 62.86,323.81 62.86,324.43 63.94,324.43 63.94,325.74 64.94,325.74 64.94,325.22 66.08,325.22 66.08,322.80 67.06,322.80 67.06,325.01 67.72,325.01 67.72,323.87 68.24,323.87 68.24,323.51 68.78,323.51 68.78,324.08 69.40,324.08 69.40,323.61 69.85,323.61 69.85,325.96 70.33,325.96 70.33,327.80 71.43,327.80 71.43,327.45 71.98,327.45 71.98,324.88 73.08,324.88 73.08,326.58 73.85,326.58 73.85,324.12 74.63,324.12 74.63,324.40 75.24,324.40 75.24,323.29 76.07,323.29 76.07,324.08 76.71,324.08 76.71,324.25 77.35,324.25 77.35,325.45 77.92,325.45 77.92,323.71 79.00,323.71 79.00,322.83 79.49,322.83 79.49,325.07 80.09,325.07 80.09,322.80 80.72,322.80 80.72,322.80 81.86,322.80 81.86,327.57 82.38,327.57 82.38,324.43 82.87,324.43 82.87,326.16 84.01,326.16 84.01,325.25 84.69,325.25 84.69,327.63 85.51,327.63 85.51,323.67 86.60,323.67 86.60,323.89 87.15,323.89 87.15,323.71 88.10,323.71 88.10,323.16 88.61,323.16 88.61,324.61 89.25,324.61 89.25,324.01 90.19,324.01 90.19,325.53 90.79,325.53 90.79,322.80 91.52,322.80 91.52,324.35 92.54,324.35 92.54,323.02 93.59,323.02 93.59,327.71 94.00,327.71 94.00,338.9" fill="#a9a9a9"/>
<polygon points="97.10,338.9 97.10,323.29 97.55,323.29 97.55,323.45 98.36,323.45 98.36,322.91 99.39,322.91 99.39,326.10 100.33,326.10 100.33,324.21 100.83,324.21 100.83,326.89 101.62,326.89 101.62,326.22 102.45,326.22 102.45,325.20 103.06,325.20 103.06,324.43 103.68,324.43 103.68,325.91 104.20,325.91 104.20,325.11 104.66,325.11 104.66,324.65 105.48,324.65 105.48,324.74 106.54,324.74 106.54,324.39 107.07,324.39 107.07,323.88 107.72,323.88 107.72,323.69 108.26,323.69 108.26,324.85 108.82,324.85 108.82,324.22 109.38,324.22 109.38,324.91 110.10,324.91 110.10,323.21 110.92,323.21 110.92,323.78 111.92,323.78 111.92,323.84 112.60,323.84 112.60,324.55 113.61,324.55 113.61,327.80 114.66,327.80 114.66,324.95 115.78,324.95 115.78,326.64 116.52,326.64 116.52,324.89 117.34,324.89 117.34,323.20 118.15,323.20 118.15,322.80 119.28,322.80 119.28,325.41 120.17,325.41 120.17,325.95 121.24,325.95 121.24,322.80 121.87,322.80 121.87,324.04 122.70,324.04 122.70,326.01 123.33,326.01 123.33,324.24 124.44,324.24 124.44,323.95 125.35,323.95 125.35,325.00 126.47,325.00 126.47,326.10 127.24,326.10 127.24,325.10 127.78,325.10 127.78,323.71 128.52,323.71 128.52,323.86 129.03,323.86 129.03,324.49 129.90,324.49 129.90,323.93 130.49,323.93 130.49,324.45 131.33,324.45 131.33,324.72 132.00,324.72 132.00,323.93 132.80,323.93 132.80,323.52 133.26,323.52 133.26,322.95 133.88,322.95 133.88,323.47 134.53,323.47 134.53,326.24 135.52,326.24 135.52,323.30 136.58,323.30 136.58,324.42 137.30,324.42 137.30,325.53 137.70,325.53 137.70,338.9" fill="#a9a9a9"/>
<polygon points="140.20,338.9 140.20,324.67 141.24,324.67 141.24,325.80 142.21,325.80 142.21,324.81 142.99,324.81 142.99,325.29 144.09,325.29 144.09,322.91 144.54,322.91 144.54,324.64 145.34,324.64 145.34,326.35 146.08,326.35 146.08,326.52 146.95,326.52 146.95,325.35 147.72,325.35 147.72,326.40 148.45,326.40 148.45,325.82 149.12,325.82 149.12,326.91 149.92,326.91 149.92,324.52 150.59,324.52 150.59,323.28 151.44,323.28 151.44,323.80 152.12,323.80 152.12,326.77 153.24,326.77 153.24,323.86 154.33,323.86 154.33,323.71 155.17,323.71 155.17,324.02 156.17,324.02 156.17,322.80 156.98,322.80 156.98,322.99 157.70,322.99 157.70,323.27 158.40,323.27 158.40,326.13 159.21,326.13 159.21,323.16 159.94,323.16 159.94,324.93 161.01,324.93 161.01,327.04 161.77,327.04 161.77,324.35 162.46,324.35 162.46,324.11 163.03,324.11 163.03,324.13 164.06,324.13 164.06,325.20 165.13,325.20 165.13,326.31 166.28,326.31 166.28,327.80 166.84,327.80 166.84,324.94 167.64,324.94 167.64,323.58 168.53,323.58 168.53,324.65 169.68,324.65 169.68,324.64 170.41,324.64 170.41,325.13 171.35,325.13 171.35,323.67 172.39,323.67 172.39,324.69 172.97,324.69 172.97,323.50 173.61,323.50 173.61,323.60 174.76,323.60 174.76,323.67 175.29,323.67 175.29,322.80 175.82,322.80 175.82,322.80 176.63,322.80 176.63,325.54 177.65,325.54 177.65,327.57 178.32,327.57 178.32,326.10 178.89,326.10 178.89,324.09 179.98,324.09 179.98,325.22 180.74,325.22 180.74,324.56 181.60,324.56 181.60,338.9" fill="#a9a9a9"/>
<polygon points="184.10,338.9 184.10,327.01 184.77,327.01 184.77,326.83 185.43,326.83 185.43,324.98 186.23,324.98 186.23,325.71 186.95,325.71 186.95,323.53 187.62,323.53 187.62,324.63 188.62,324.63 188.62,323.23 189.32,323.23 189.32,323.34 189.98,323.34 189.98,324.41 190.80,324.41 190.80,324.47 191.30,324.47 191.30,324.37 191.99,324.37 191.99,324.40 192.64,324.40 192.64,323.76 193.56,323.76 193.56,323.82 194.50,323.82 194.50,324.45 195.54,324.45 195.54,324.64 196.57,324.64 196.57,326.57 197.27,326.57 197.27,326.24 198.39,326.24 198.39,323.52 199.19,323.52 199.19,322.80 199.73,322.80 199.73,323.63 200.81,323.63 200.81,323.93 201.44,323.93 201.44,324.25 202.50,324.25 202.50,323.10 203.33,323.10 203.33,324.02 204.05,324.02 204.05,325.62 204.71,325.62 204.71,324.20 205.29,324.20 205.29,325.70 206.20,325.70 206.20,323.49 206.90,323.49 206.90,325.16 207.40,325.16 207.40,324.95 207.94,324.95 207.94,326.39 208.67,326.39 208.67,327.37 209.74,327.37 209.74,327.39 210.38,327.39 210.38,324.45 211.30,324.45 211.30,323.34 212.21,323.34 212.21,323.87 213.25,323.87 213.25,323.19 213.83,323.19 213.83,322.90 214.79,322.90 214.79,324.56 215.27,324.56 215.27,323.18 215.93,323.18 215.93,324.21 216.60,324.21 216.60,325.25 217.64,325.25 217.64,324.07 218.27,324.07 218.27,323.54 218.96,323.54 218.96,323.60 219.95,323.60 219.95,324.73 221.00,324.73 221.00,325.78 221.62,325.78 221.62,324.85 222.22,324.85 222.22,327.80 222.73,327.80 222.73,326.59 223.70,326.59 223.70,325.76 224.22,325.76 224.22,325.81 224.50,325.81 224.50,338.9" fill="#a9a9a9"/>
<polygon points="227.30,338.9 227.30,324.51 228.11,324.51 228.11,326.01 229.09,326.01 229.09,324.12 230.11,324.12 230.11,325.30 231.23,325.30 231.23,325.40 231.86,325.40 231.86,323.62 232.60,323.62 232.60,324.07 233.14,324.07 233.14,325.94 233.76,325.94 233.76,324.30 234.52,324.30 234.52,326.89 235.18,326.89 235.18,326.72 236.02,326.72 236.02,324.51 236.86,324.51 236.86,325.11 237.78,325.11 237.78,323.07 238.76,323.07 238.76,324.68 239.41,324.68 239.41,323.33 239.91,323.33 239.91,323.34 240.85,323.34 240.85,324.02 241.52,324.02 241.52,324.69 242.09,324.69 242.09,327.79 243.07,327.79 243.07,323.91 244.20,323.91 244.20,324.46 245.00,324.46 245.00,324.89 245.83,324.89 245.83,324.85 246.73,324.85 246.73,325.86 247.63,325.86 247.63,324.49 248.18,324.49 248.18,324.17 249.22,324.17 249.22,323.24 250.12,323.24 250.12,324.40 250.68,324.40 250.68,324.30 251.65,324.30 251.65,323.60 252.68,323.60 252.68,323.56 253.52,323.56 253.52,323.59 254.13,323.59 254.13,323.41 255.02,323.41 255.02,325.80 256.11,325.80 256.11,326.13 256.91,326.13 256.91,323.93 257.76,323.93 257.76,325.15 258.33,325.15 258.33,325.95 258.84,325.95 258.84,324.89 259.42,324.89 259.42,327.64 260.47,327.64 260.47,326.19 260.90,326.19 260.90,338.9" fill="#a9a9a9"/>
<polygon points="264.30,338.9 264.30,326.48 264.87,326.48 264.87,324.02 265.71,324.02 265.71,324.50 266.22,324.50 266.22,325.13 267.35,325.13 267.35,327.35 268.48,327.35 268.48,326.75 269.50,326.75 269.50,322.97 270.38,322.97 270.38,322.80 271.49,322.80 271.49,323.70 272.15,323.70 272.15,323.76 272.62,323.76 272.62,323.29 273.38,323.29 273.38,323.07 274.09,323.07 274.09,324.66 274.92,324.66 274.92,324.26 275.45,324.26 275.45,322.80 276.28,322.80 276.28,323.00 276.91,323.00 276.91,323.98 277.53,323.98 277.53,325.24 278.14,325.24 278.14,325.55 278.95,325.55 278.95,326.14 279.69,326.14 279.69,325.26 280.74,325.26 280.74,324.82 281.72,324.82 281.72,323.55 282.68,323.55 282.68,323.73 283.40,323.73 283.40,323.40 284.24,323.40 284.24,325.84 285.24,325.84 285.24,323.79 285.95,323.79 285.95,322.80 286.55,322.80 286.55,322.80 287.30,322.80 287.30,325.16 288.36,325.16 288.36,323.31 289.42,323.31 289.42,323.24 290.10,323.24 290.10,326.27 291.13,326.27 291.13,323.97 292.10,323.97 292.10,327.02 292.58,327.02 292.58,325.38 293.41,325.38 293.41,325.98 294.51,325.98 294.51,325.50 295.10,325.50 295.10,325.49 295.95,325.49 295.95,326.91 296.96,326.91 296.96,324.35 297.62,324.35 297.62,325.86 298.17,325.86 298.17,326.50 299.10,326.50 299.10,324.63 299.40,324.63 299.40,338.9" fill="#a9a9a9"/>
<polygon points="302.10,338.9 302.10,322.80 303.03,322.80 303.03,323.35 303.59,323.35 303.59,325.97 304.65,325.97 304.65,324.57 305.33,324.57 305.33,322.80 306.19,322.80 306.19,322.80 306.89,322.80 306.89,323.89 307.61,323.89 307.61,327.38 308.30,327.38 308.30,323.72 309.44,323.72 309.44,325.11 310.36,325.11 310.36,325.33 311.16,325.33 311.16,324.05 311.98,324.05 311.98,326.37 312.45,326.37 312.45,324.50 313.51,324.50 313.51,325.99 314.41,325.99 314.41,323.83 315.41,323.83 315.41,325.71 316.34,325.71 316.34,323.07 317.31,323.07 317.31,322.88 318.00,322.88 318.00,323.33 318.50,323.33 318.50,323.51 319.64,323.51 319.64,325.51 320.26,325.51 320.26,324.64 320.80,324.64 320.80,324.00 321.57,324.00 321.57,324.57 322.23,324.57 322.23,324.24 322.89,324.24 322.89,324.50 323.73,324.50 323.73,327.02 324.82,327.02 324.82,325.57 325.40,325.57 325.40,325.56 326.10,325.56 326.10,325.58 327.16,325.58 327.16,322.80 328.24,322.80 328.24,322.80 328.70,322.80 328.70,323.12 329.65,323.12 329.65,323.50 330.24,323.50 330.24,324.60 331.14,324.60 331.14,323.87 332.26,323.87 332.26,324.94 333.28,324.94 333.28,326.15 333.83,326.15 333.83,324.20 334.89,324.20 334.89,326.80 335.49,326.80 335.49,325.41 335.90,325.41 335.90,338.9" fill="#a9a9a9"/>
<polygon points="338.70,338.9 338.70,324.55 339.50,324.55 339.50,324.82 340.27,324.82 340.27,324.13 341.12,324.13 341.12,327.22 342.00,327.22 342.00,324.86 342.51,324.86 342.51,323.24 343.50,323.24 343.50,324.46 344.24,324.46 344.24,325.90 345.08,325.90 345.08,326.20 345.76,326.20 345.76,326.65 346.71,326.65 346.71,326.74 347.38,326.74 347.38,326.02 348.15,326.02 348.15,323.19 349.25,323.19 349.25,327.28 350.16,327.28 350.16,326.01 351.31,326.01 351.31,323.41 351.82,323.41 351.82,323.05 352.31,323.05 352.31,323.93 352.89,323.93 352.89,326.04 353.44,326.04 353.44,322.80 354.54,322.80 354.54,327.58 355.16,327.58 355.16,325.69 356.05,325.69 356.05,324.07 356.82,324.07 356.82,324.25 357.35,324.25 357.35,325.55 358.25,325.55 358.25,324.26 358.74,324.26 358.74,325.01 359.84,325.01 359.84,326.75 360.44,326.75 360.44,323.57 361.20,323.57 361.20,324.04 362.18,324.04 362.18,326.66 363.33,326.66 363.33,324.98 363.89,324.98 363.89,326.88 364.52,326.88 364.52,325.99 365.17,325.99 365.17,324.30 366.24,324.30 366.24,323.15 367.11,323.15 367.11,323.52 368.18,323.52 368.18,324.00 368.88,324.00 368.88,326.00 369.46,326.00 369.46,325.84 370.12,325.84 370.12,322.80 371.10,322.80 371.10,338.9" fill="#a9a9a9"/>
<polygon points="374.10,338.9 374.10,324.43 374.79,324.43 374.79,325.47 375.86,325.47 375.86,326.02 376.47,326.02 376.47,325.60 376.95,325.60 376.95,324.72 377.70,324.72 377.70,327.79 378.37,327.79 378.37,325.78 379.16,325.78 379.16,323.27 379.74,323.27 379.74,325.28 380.70,325.28 380.70,324.57 381.40,324.57 381.40,324.51 382.09,324.51 382.09,324.49 383.16,324.49 383.16,327.15 383.74,327.15 383.74,325.10 384.22,325.10 384.22,325.16 385.06,325.16 385.06,327.49 385.96,327.49 385.96,324.35 386.90,324.35 386.90,325.57 387.85,325.57 387.85,322.80 388.59,322.80 388.59,326.17 389.31,326.17 389.31,324.02 390.46,324.02 390.46,323.31 391.56,323.31 391.56,324.25 392.27,324.25 392.27,324.23 392.80,324.23 392.80,326.06 393.89,326.06 393.89,323.44 394.57,323.44 394.57,325.69 395.24,325.69 395.24,327.55 396.29,327.55 396.29,325.23 397.43,325.23 397.43,324.72 398.40,324.72 398.40,324.31 399.13,324.31 399.13,323.51 400.05,323.51 400.05,322.80 400.20,322.80 400.20,338.9" fill="#a9a9a9"/>
<polygon points="403.00,338.9 403.00,325.73 403.60,325.73 403.60,323.78 404.42,323.78 404.42,323.85 405.44,323.85 405.44,323.59 406.47,323.59 406.47,323.66 407.50,323.66 407.50,326.27 407.98,326.27 407.98,324.11 409.00,324.11 409.00,322.80 409.63,322.80 409.63,322.80 410.64,322.80 410.64,324.16 411.15,324.16 411.15,323.88 412.09,323.88 412.09,324.64 413.10,324.64 413.10,327.40 414.02,327.40 414.02,325.11 414.64,325.11 414.64,324.49 415.36,324.49 415.36,323.96 416.21,323.96 416.21,323.40 417.16,323.40 417.16,323.02 417.78,323.02 417.78,325.81 418.67,325.81 418.67,326.28 419.42,326.28 419.42,325.10 420.13,325.10 420.13,322.80 420.84,322.80 420.84,324.69 421.57,324.69 421.57,323.89 422.27,323.89 422.27,322.88 423.37,322.88 423.37,324.39 424.31,324.39 424.31,325.10 424.99,325.10 424.99,324.65 425.71,324.65 425.71,325.96 426.79,325.96 426.79,327.39 427.56,327.39 427.56,323.78 428.31,323.78 428.31,324.28 429.06,324.28 429.06,324.42 429.80,324.42 429.80,338.9" fill="#a9a9a9"/>
<polygon points="432.70,338.9 432.70,326.64 433.23,326.64 433.23,324.60 434.25,324.60 434.25,323.14 435.23,323.14 435.23,324.38 436.16,324.38 436.16,325.89 436.65,325.89 436.65,325.54 437.51,325.54 437.51,326.65 438.57,326.65 438.57,323.08 439.38,323.08 439.38,322.80 440.02,322.80 440.02,322.80 440.65,322.80 440.65,324.93 441.46,324.93 441.46,324.11 442.12,324.11 442.12,326.11 443.17,326.11 443.17,323.55 443.66,323.55 443.66,324.57 444.43,324.57 444.43,324.20 445.14,324.20 445.14,325.09 446.23,325.09 446.23,325.15 446.90,325.15 446.90,325.98 447.75,325.98 447.75,325.13 448.75,325.13 448.75,324.90 449.77,324.90 449.77,325.46 450.87,325.46 450.87,323.95 451.36,323.95 451.36,324.33 451.84,324.33 451.84,326.92 452.71,326.92 452.71,324.52 453.56,324.52 453.56,325.83 454.48,325.83 454.48,324.96 455.07,324.96 455.07,325.38 456.17,325.38 456.17,322.80 456.68,322.80 456.68,324.37 457.42,324.37 457.42,324.80 458.51,324.80 458.51,324.77 459.00,324.77 459.00,324.60 460.03,324.60 460.03,323.46 460.89,323.46 460.89,323.00 461.45,323.00 461.45,325.33 462.49,325.33 462.49,323.99 463.62,323.99 463.62,325.21 464.34,325.21 464.34,325.77 465.17,325.77 465.17,324.55 465.80,324.55 465.80,338.9" fill="#a9a9a9"/>
<polygon points="468.40,338.9 468.40,326.70 469.22,326.70 469.22,323.05 470.19,323.05 470.19,324.34 470.71,324.34 470.71,324.20 471.58,324.20 471.58,324.46 472.13,324.46 472.13,324.57 473.17,324.57 473.17,325.21 473.64,325.21 473.64,325.94 474.33,325.94 474.33,327.75 474.82,327.75 474.82,325.15 475.44,325.15 475.44,326.13 476.44,326.13 476.44,322.82 477.28,322.82 477.28,322.80 478.28,322.80 478.28,323.56 478.76,323.56 478.76,323.12 479.66,323.12 479.66,323.40 480.36,323.40 480.36,324.27 480.92,324.27 480.92,323.51 481.60,323.51 481.60,325.87 482.39,325.87 482.39,324.02 483.45,324.02 483.45,323.28 484.28,323.28 484.28,323.71 484.84,323.71 484.84,325.41 485.55,325.41 485.55,324.61 486.14,324.61 486.14,324.34 487.20,324.34 487.20,325.84 487.66,325.84 487.66,327.80 488.67,327.80 488.67,324.18 489.28,324.18 489.28,324.79 489.91,324.79 489.91,322.80 490.73,322.80 490.73,322.80 491.24,322.80 491.24,322.97 492.10,322.97 492.10,325.19 492.60,325.19 492.60,323.68 493.73,323.68 493.73,323.57 494.67,323.57 494.67,326.84 495.69,326.84 495.69,324.50 496.14,324.50 496.14,326.58 496.88,326.58 496.88,324.01 497.84,324.01 497.84,325.58 498.53,325.58 498.53,323.80 499.14,323.80 499.14,324.69 499.80,324.69 499.80,338.9" fill="#a9a9a9"/>
<line x1="43" y1="322.3" x2="501.2" y2="322.3" stroke="#8c4038" stroke-width="0.8" stroke-dasharray="1.6,1.4"/>
<line x1="41.7" y1="214.5" x2="41.7" y2="337.4" stroke="#777" stroke-width="1"/>
<line x1="38.2" y1="337.40" x2="41.7" y2="337.40" stroke="#777" stroke-width="1"/>
<text x="35.7" y="339.5" font-size="6.2" text-anchor="end" font-weight="normal" fill="#000" stroke="#000" stroke-width="0.2">0</text>
<line x1="38.2" y1="318.23" x2="41.7" y2="318.23" stroke="#777" stroke-width="1"/>
<text x="35.7" y="320.3333333333333" font-size="6.2" text-anchor="end" font-weight="normal" fill="#000" stroke="#000" stroke-width="0.2">5</text>
<line x1="38.2" y1="299.07" x2="41.7" y2="299.07" stroke="#777" stroke-width="1"/>
<text x="35.7" y="301.1666666666667" font-size="6.2" text-anchor="end" font-weight="normal" fill="#000" stroke="#000" stroke-width="0.2">10</text>
<line x1="38.2" y1="279.90" x2="41.7" y2="279.90" stroke="#777" stroke-width="1"/>
<text x="35.7" y="282.0" font-size="6.2" text-anchor="end" font-weight="normal" fill="#000" stroke="#000" stroke-width="0.2">15</text>
<line x1="38.2" y1="260.73" x2="41.7" y2="260.73" stroke="#777" stroke-width="1"/>
<text x="35.7" y="262.83333333333337" font-size="6.2" text-anchor="end" font-weight="normal" fill="#000" stroke="#000" stroke-width="0.2">20</text>
<line x1="38.2" y1="241.57" x2="41.7" y2="241.57" stroke="#777" stroke-width="1"/>
<text x="35.7" y="243.66666666666666" font-size="6.2" text-anchor="end" font-weight="normal" fill="#000" stroke="#000" stroke-width="0.2">25</text>
<line x1="38.2" y1="222.40" x2="41.7" y2="222.40" stroke="#777" stroke-width="1"/>
<text x="35.7" y="224.5" font-size="6.2" text-anchor="end" font-weight="normal" fill="#000" stroke="#000" stroke-width="0.2">30</text>
<line x1="42.6" y1="342.5" x2="500.6" y2="342.5" stroke="#7a7a7a" stroke-width="1.3"/>
<line x1="42.60" y1="342.5" x2="42.60" y2="346.0" stroke="#222" stroke-width="1.1"/>
<text transform="translate(42.60,353.50) scale(0.95,1)" font-size="6.2" text-anchor="middle" font-weight="bold" fill="#111">Chr</text>
<line x1="70.45" y1="342.5" x2="70.45" y2="346.0" stroke="#222" stroke-width="1.1"/>
<text transform="translate(70.45,353.50) scale(0.95,1)" font-size="6.2" text-anchor="middle" font-weight="bold" fill="#111">1</text>
<line x1="117.70" y1="342.5" x2="117.70" y2="346.0" stroke="#222" stroke-width="1.1"/>
<text transform="translate(117.70,353.50) scale(0.95,1)" font-size="6.2" text-anchor="middle" font-weight="bold" fill="#111">2</text>
<line x1="161.45" y1="342.5" x2="161.45" y2="346.0" stroke="#222" stroke-width="1.1"/>
<text transform="translate(161.45,353.50) scale(0.95,1)" font-size="6.2" text-anchor="middle" font-weight="bold" fill="#111">3</text>
<line x1="204.55" y1="342.5" x2="204.55" y2="346.0" stroke="#222" stroke-width="1.1"/>
<text transform="translate(204.55,353.50) scale(0.95,1)" font-size="6.2" text-anchor="middle" font-weight="bold" fill="#111">4</text>
<line x1="244.50" y1="342.5" x2="244.50" y2="346.0" stroke="#222" stroke-width="1.1"/>
<text transform="translate(244.50,353.50) scale(0.95,1)" font-size="6.2" text-anchor="middle" font-weight="bold" fill="#111">5</text>
<line x1="282.05" y1="342.5" x2="282.05" y2="346.0" stroke="#222" stroke-width="1.1"/>
<text transform="translate(282.05,353.50) scale(0.95,1)" font-size="6.2" text-anchor="middle" font-weight="bold" fill="#111">6</text>
<line x1="319.45" y1="342.5" x2="319.45" y2="346.0" stroke="#222" stroke-width="1.1"/>
<text transform="translate(319.45,353.50) scale(0.95,1)" font-size="6.2" text-anchor="middle" font-weight="bold" fill="#111">7</text>
<line x1="355.15" y1="342.5" x2="355.15" y2="346.0" stroke="#222" stroke-width="1.1"/>
<text transform="translate(355.15,353.50) scale(0.95,1)" font-size="6.2" text-anchor="middle" font-weight="bold" fill="#111">8</text>
<line x1="387.45" y1="342.5" x2="387.45" y2="346.0" stroke="#222" stroke-width="1.1"/>
<text transform="translate(387.45,353.50) scale(0.95,1)" font-size="6.2" text-anchor="middle" font-weight="bold" fill="#111">9</text>
<line x1="416.70" y1="342.5" x2="416.70" y2="346.0" stroke="#222" stroke-width="1.1"/>
<text transform="translate(416.70,353.50) scale(0.95,1)" font-size="6.2" text-anchor="middle" font-weight="bold" fill="#111">10</text>
<line x1="449.50" y1="342.5" x2="449.50" y2="346.0" stroke="#222" stroke-width="1.1"/>
<text transform="translate(449.50,353.50) scale(0.95,1)" font-size="6.2" text-anchor="middle" font-weight="bold" fill="#111">11</text>
<line x1="484.50" y1="342.5" x2="484.50" y2="346.0" stroke="#222" stroke-width="1.1"/>
<text transform="translate(484.50,353.50) scale(0.95,1)" font-size="6.2" text-anchor="middle" font-weight="bold" fill="#111">12</text>
<text transform="translate(278.2,364.10) scale(0.955,1)" font-size="9.0" text-anchor="middle" fill="#111" stroke="#111" stroke-width="0.15">Chromosome</text>
<g transform="translate(18.1,295.00) rotate(-90)" fill="#222">
<line x1="0.1" y1="-2.7" x2="5.4" y2="-2.7" stroke="#333" stroke-width="0.85"/>
<text x="8.6" y="0" font-size="8.3">log</text>
<text x="19.4" y="1.5" font-size="5.9">10</text>
<text x="26.2" y="0" font-size="8.2">(</text>
<text x="29.4" y="0" font-size="8.2" font-style="italic">p</text>
<text x="35.5" y="0" font-size="8.2">)</text>
</g>
<text x="45.5" y="208.7" font-size="8.3" text-anchor="start" font-weight="normal" fill="#111" >GC</text>
<circle cx="47.9" cy="218.20" r="2.1" fill="#e0363c"/>
<text x="54.4" y="220.79999999999998" font-size="7.2" text-anchor="start" font-weight="normal" fill="#000" letter-spacing="0.05">Whole-2016GZ</text>
<circle cx="47.9" cy="227.94" r="2.1" fill="#1d5293"/>
<text x="54.4" y="230.54" font-size="7.2" text-anchor="start" font-weight="normal" fill="#000" letter-spacing="0.05">Whole-2018YJ</text>
<circle cx="47.9" cy="237.68" r="2.1" fill="#e48b32"/>
<text x="54.4" y="240.27999999999997" font-size="7.2" text-anchor="start" font-weight="normal" fill="#000" letter-spacing="0.05">Indica-2016GZ</text>
<circle cx="47.9" cy="247.42" r="2.1" fill="#52c07e"/>
<text x="54.4" y="250.01999999999998" font-size="7.2" text-anchor="start" font-weight="normal" fill="#000" letter-spacing="0.05">Indica-2018YJ</text>
<circle cx="47.9" cy="257.16" r="2.1" fill="#3e0b46"/>
<text x="54.4" y="259.76" font-size="7.2" text-anchor="start" font-weight="normal" fill="#000" letter-spacing="0.05">Japonica-2016GZ</text>
<circle cx="47.9" cy="266.90" r="2.1" fill="#0c4a4c"/>
<text x="54.4" y="269.5" font-size="7.2" text-anchor="start" font-weight="normal" fill="#000" letter-spacing="0.05">Japonica-2018YJ</text>
<circle cx="47" cy="321" r="1.75" fill="#4a82c4" stroke="#2f63a6" stroke-width="0.7" fill-opacity="0.92"/>
<circle cx="50.5" cy="322" r="1.75" fill="#e8353d" stroke="#c92a32" stroke-width="0.7" fill-opacity="0.92"/>
<circle cx="54" cy="321.5" r="1.75" fill="#5cc8c8" stroke="#2c9c9c" stroke-width="0.7" fill-opacity="0.92"/>
<circle cx="69.8" cy="320.5" r="1.75" fill="#e8353d" stroke="#c92a32" stroke-width="0.7" fill-opacity="0.92"/>
<circle cx="76.5" cy="320.5" r="1.75" fill="#5cc8c8" stroke="#2c9c9c" stroke-width="0.7" fill-opacity="0.92"/>
<circle cx="87.5" cy="321.5" r="1.75" fill="#f7c48e" stroke="#efac6a" stroke-width="0.7" fill-opacity="0.92"/>
<circle cx="90.5" cy="321.5" r="1.75" fill="#7aaee4" stroke="#5b8ccb" stroke-width="0.7" fill-opacity="0.92"/>
<circle cx="93" cy="321.5" r="1.75" fill="#4a82c4" stroke="#2f63a6" stroke-width="0.7" fill-opacity="0.92"/>
<circle cx="105.5" cy="316.6" r="1.75" fill="#1c5a9c" stroke="#134a84" stroke-width="0.7" fill-opacity="0.92"/>
<circle cx="105" cy="319.5" r="1.75" fill="#4dbd7d" stroke="#35a566" stroke-width="0.7" fill-opacity="0.92"/>
<circle cx="105" cy="322" r="1.75" fill="#4dbd7d" stroke="#35a566" stroke-width="0.7" fill-opacity="0.92"/>
<circle cx="116.5" cy="320" r="1.75" fill="#4a82c4" stroke="#2f63a6" stroke-width="0.7" fill-opacity="0.92"/>
<circle cx="119.5" cy="313" r="1.75" fill="#4dbd7d" stroke="#35a566" stroke-width="0.7" fill-opacity="0.92"/>
<circle cx="119.5" cy="316" r="1.75" fill="#4dbd7d" stroke="#35a566" stroke-width="0.7" fill-opacity="0.92"/>
<circle cx="119.5" cy="319" r="1.75" fill="#4dbd7d" stroke="#35a566" stroke-width="0.7" fill-opacity="0.92"/>
<circle cx="119.5" cy="321.5" r="1.75" fill="#4dbd7d" stroke="#35a566" stroke-width="0.7" fill-opacity="0.92"/>
<circle cx="126.5" cy="316" r="1.75" fill="#e8353d" stroke="#c92a32" stroke-width="0.7" fill-opacity="0.92"/>
<circle cx="126.5" cy="320.5" r="1.65" fill="#d8d8f0" stroke="#1c1c70" stroke-width="1.1199999999999999" fill-opacity="0.92"/>
<circle cx="131.5" cy="320" r="1.75" fill="#a8e6c2" stroke="#86d4a6" stroke-width="0.7" fill-opacity="0.92"/>
<circle cx="136.5" cy="320" r="1.75" fill="#f7c48e" stroke="#efac6a" stroke-width="0.7" fill-opacity="0.92"/>
<circle cx="142.5" cy="321.5" r="1.75" fill="#1c5a9c" stroke="#134a84" stroke-width="0.7" fill-opacity="0.92"/>
<circle cx="146.5" cy="317.5" r="1.75" fill="#a8e6c2" stroke="#86d4a6" stroke-width="0.7" fill-opacity="0.92"/>
<circle cx="150" cy="318" r="1.75" fill="#0f5a5a" stroke="#0a4444" stroke-width="0.7" fill-opacity="0.92"/>
<circle cx="150" cy="321" r="1.75" fill="#0f5a5a" stroke="#0a4444" stroke-width="0.7" fill-opacity="0.92"/>
<circle cx="158.5" cy="321.5" r="1.75" fill="#ee8b2c" stroke="#d8761c" stroke-width="0.7" fill-opacity="0.92"/>
<circle cx="174" cy="320.5" r="1.75" fill="#ee8b2c" stroke="#d8761c" stroke-width="0.7" fill-opacity="0.92"/>
<circle cx="177.5" cy="320" r="1.75" fill="#7aaee4" stroke="#5b8ccb" stroke-width="0.7" fill-opacity="0.92"/>
<circle cx="185.5" cy="321" r="1.75" fill="#4dbd7d" stroke="#35a566" stroke-width="0.7" fill-opacity="0.92"/>
<circle cx="188" cy="321" r="1.75" fill="#0f5a5a" stroke="#0a4444" stroke-width="0.7" fill-opacity="0.92"/>
<circle cx="207" cy="321" r="1.75" fill="#f29aa2" stroke="#e27c86" stroke-width="0.7" fill-opacity="0.92"/>
<circle cx="210" cy="322" r="1.75" fill="#5cc8c8" stroke="#2c9c9c" stroke-width="0.7" fill-opacity="0.92"/>
<circle cx="213.5" cy="320" r="1.75" fill="#ba8ace" stroke="#9c6cb2" stroke-width="0.7" fill-opacity="0.92"/>
<circle cx="219" cy="320" r="1.75" fill="#4a82c4" stroke="#2f63a6" stroke-width="0.7" fill-opacity="0.92"/>
<circle cx="222" cy="320" r="1.75" fill="#4dbd7d" stroke="#35a566" stroke-width="0.7" fill-opacity="0.92"/>
<circle cx="222" cy="322" r="1.75" fill="#a8e6c2" stroke="#86d4a6" stroke-width="0.7" fill-opacity="0.92"/>
<circle cx="230" cy="314" r="1.75" fill="#1c5a9c" stroke="#134a84" stroke-width="0.7" fill-opacity="0.92"/>
<circle cx="230" cy="317" r="1.75" fill="#4a82c4" stroke="#2f63a6" stroke-width="0.7" fill-opacity="0.92"/>
<circle cx="230" cy="320" r="1.75" fill="#0f5a5a" stroke="#0a4444" stroke-width="0.7" fill-opacity="0.92"/>
<circle cx="236" cy="319" r="1.75" fill="#1c5a9c" stroke="#134a84" stroke-width="0.7" fill-opacity="0.92"/>
<circle cx="236" cy="321.5" r="1.75" fill="#1c5a9c" stroke="#134a84" stroke-width="0.7" fill-opacity="0.92"/>
<circle cx="245.5" cy="322" r="1.75" fill="#7aaee4" stroke="#5b8ccb" stroke-width="0.7" fill-opacity="0.92"/>
<circle cx="259" cy="316.5" r="1.65" fill="#f0a0c0" stroke="#8a1040" stroke-width="1.1199999999999999" fill-opacity="0.92"/>
<circle cx="259.5" cy="320.5" r="1.75" fill="#b82a5a" stroke="#8a1040" stroke-width="0.7" fill-opacity="0.92"/>
<circle cx="266.5" cy="214.8" r="1.75" fill="#7aaee4" stroke="#5b8ccb" stroke-width="0.7" fill-opacity="0.92"/>
<circle cx="266.5" cy="222.8" r="1.75" fill="#f29aa2" stroke="#e27c86" stroke-width="0.7" fill-opacity="0.92"/>
<circle cx="266.5" cy="231" r="1.75" fill="#a8e6c2" stroke="#86d4a6" stroke-width="0.7" fill-opacity="0.92"/>
<circle cx="266.5" cy="237.4" r="1.75" fill="#f7c48e" stroke="#efac6a" stroke-width="0.7" fill-opacity="0.92"/>
<circle cx="266.3" cy="286.4" r="1.75" fill="#f29aa2" stroke="#e27c86" stroke-width="0.7" fill-opacity="0.92"/>
<circle cx="266.3" cy="295.2" r="1.75" fill="#8274be" stroke="#4c3c8c" stroke-width="0.7" fill-opacity="0.92"/>
<circle cx="266.3" cy="307.6" r="1.75" fill="#5cc8c8" stroke="#2c9c9c" stroke-width="0.7" fill-opacity="0.92"/>
<circle cx="266" cy="315" r="1.75" fill="#f29aa2" stroke="#e27c86" stroke-width="0.7" fill-opacity="0.92"/>
<circle cx="266.5" cy="320" r="1.75" fill="#4c0f52" stroke="#3a0840" stroke-width="0.7" fill-opacity="0.92"/>
<circle cx="268" cy="319" r="1.75" fill="#4c0f52" stroke="#3a0840" stroke-width="0.7" fill-opacity="0.92"/>
<circle cx="272" cy="315" r="1.75" fill="#4a82c4" stroke="#2f63a6" stroke-width="0.7" fill-opacity="0.92"/>
<circle cx="272" cy="318.5" r="1.75" fill="#1c5a9c" stroke="#134a84" stroke-width="0.7" fill-opacity="0.92"/>
<circle cx="272" cy="321" r="1.75" fill="#4dbd7d" stroke="#35a566" stroke-width="0.7" fill-opacity="0.92"/>
<circle cx="277.5" cy="321.5" r="1.75" fill="#7aaee4" stroke="#5b8ccb" stroke-width="0.7" fill-opacity="0.92"/>
<circle cx="287" cy="321.5" r="1.75" fill="#0f5a5a" stroke="#0a4444" stroke-width="0.7" fill-opacity="0.92"/>
<circle cx="295" cy="320" r="1.75" fill="#4dbd7d" stroke="#35a566" stroke-width="0.7" fill-opacity="0.92"/>
<circle cx="309.8" cy="320.5" r="1.75" fill="#4dbd7d" stroke="#35a566" stroke-width="0.7" fill-opacity="0.92"/>
<circle cx="321.5" cy="321.5" r="1.65" fill="#f0a0c0" stroke="#8a1040" stroke-width="1.1199999999999999" fill-opacity="0.92"/>
<circle cx="328.5" cy="321.5" r="1.75" fill="#0f5a5a" stroke="#0a4444" stroke-width="0.7" fill-opacity="0.92"/>
<circle cx="331" cy="320" r="1.75" fill="#a8e6c2" stroke="#86d4a6" stroke-width="0.7" fill-opacity="0.92"/>
<circle cx="357.5" cy="321.5" r="1.75" fill="#ea6a3a" stroke="#d05428" stroke-width="0.7" fill-opacity="0.92"/>
<circle cx="363.5" cy="319.2" r="1.75" fill="#4a82c4" stroke="#2f63a6" stroke-width="0.7" fill-opacity="0.92"/>
<circle cx="363" cy="322" r="1.75" fill="#4a82c4" stroke="#2f63a6" stroke-width="0.7" fill-opacity="0.92"/>
<circle cx="375.5" cy="321" r="1.75" fill="#ee8b2c" stroke="#d8761c" stroke-width="0.7" fill-opacity="0.92"/>
<circle cx="378" cy="320" r="1.75" fill="#f7c48e" stroke="#efac6a" stroke-width="0.7" fill-opacity="0.92"/>
<circle cx="385" cy="321" r="1.75" fill="#ba8ace" stroke="#9c6cb2" stroke-width="0.7" fill-opacity="0.92"/>
<circle cx="390" cy="317.5" r="1.75" fill="#4c0f52" stroke="#3a0840" stroke-width="0.7" fill-opacity="0.92"/>
<circle cx="389" cy="320" r="1.75" fill="#4c0f52" stroke="#3a0840" stroke-width="0.7" fill-opacity="0.92"/>
<circle cx="393" cy="321" r="1.75" fill="#0f5a5a" stroke="#0a4444" stroke-width="0.7" fill-opacity="0.92"/>
<circle cx="394" cy="317" r="1.75" fill="#7aaee4" stroke="#5b8ccb" stroke-width="0.7" fill-opacity="0.92"/>
<circle cx="394.5" cy="320" r="1.75" fill="#5cc8c8" stroke="#2c9c9c" stroke-width="0.7" fill-opacity="0.92"/>
<circle cx="408" cy="315" r="1.75" fill="#a8e6c2" stroke="#86d4a6" stroke-width="0.7" fill-opacity="0.92"/>
<circle cx="406.5" cy="321" r="1.75" fill="#0f5a5a" stroke="#0a4444" stroke-width="0.7" fill-opacity="0.92"/>
<circle cx="407" cy="320" r="1.75" fill="#4dbd7d" stroke="#35a566" stroke-width="0.7" fill-opacity="0.92"/>
<circle cx="423.5" cy="319.5" r="1.75" fill="#7aaee4" stroke="#5b8ccb" stroke-width="0.7" fill-opacity="0.92"/>
<circle cx="437.5" cy="320" r="1.75" fill="#a8e6c2" stroke="#86d4a6" stroke-width="0.7" fill-opacity="0.92"/>
<circle cx="457.5" cy="321" r="1.75" fill="#0f5a5a" stroke="#0a4444" stroke-width="0.7" fill-opacity="0.92"/>
<circle cx="460" cy="322" r="1.75" fill="#f7c48e" stroke="#efac6a" stroke-width="0.7" fill-opacity="0.92"/>
<circle cx="461.5" cy="316.5" r="1.75" fill="#a8e6c2" stroke="#86d4a6" stroke-width="0.7" fill-opacity="0.92"/>
<circle cx="473.5" cy="319.5" r="1.75" fill="#f7c48e" stroke="#efac6a" stroke-width="0.7" fill-opacity="0.92"/>
<circle cx="477" cy="321.5" r="1.75" fill="#5cc8c8" stroke="#2c9c9c" stroke-width="0.7" fill-opacity="0.92"/>
<circle cx="480" cy="320" r="1.75" fill="#f29aa2" stroke="#e27c86" stroke-width="0.7" fill-opacity="0.92"/>
<circle cx="488" cy="321" r="1.75" fill="#5cc8c8" stroke="#2c9c9c" stroke-width="0.7" fill-opacity="0.92"/>
<polygon points="45.50,522.8 45.50,510.22 46.39,510.22 46.39,510.18 46.90,510.18 46.90,509.72 47.47,509.72 47.47,510.90 48.44,510.90 48.44,509.39 49.54,509.39 49.54,510.37 50.58,510.37 50.58,510.14 51.33,510.14 51.33,510.06 52.39,510.06 52.39,509.46 53.21,509.46 53.21,511.70 54.34,511.70 54.34,510.95 55.38,510.95 55.38,509.81 56.15,509.81 56.15,509.66 57.23,509.66 57.23,510.30 57.96,510.30 57.96,511.06 58.89,511.06 58.89,511.33 59.62,511.33 59.62,508.92 60.66,508.92 60.66,508.98 61.69,508.98 61.69,511.63 62.15,511.63 62.15,508.90 62.90,508.90 62.90,509.94 63.58,509.94 63.58,509.72 64.62,509.72 64.62,509.90 65.13,509.90 65.13,509.28 65.89,509.28 65.89,510.31 66.43,510.31 66.43,510.43 67.45,510.43 67.45,509.75 68.57,509.75 68.57,510.61 69.65,510.61 69.65,510.19 70.37,510.19 70.37,509.61 71.18,509.61 71.18,511.04 72.21,511.04 72.21,508.90 72.66,508.90 72.66,509.00 73.43,509.00 73.43,510.66 74.12,510.66 74.12,509.21 75.18,509.21 75.18,509.03 76.28,509.03 76.28,510.58 76.78,510.58 76.78,509.89 77.90,509.89 77.90,509.90 78.79,509.90 78.79,510.51 79.72,510.51 79.72,511.27 80.42,511.27 80.42,511.22 81.46,511.22 81.46,510.58 82.22,510.58 82.22,510.62 83.18,510.62 83.18,510.72 83.86,510.72 83.86,509.75 84.93,509.75 84.93,508.90 85.79,508.90 85.79,508.90 86.76,508.90 86.76,509.66 87.74,509.66 87.74,509.12 88.49,509.12 88.49,511.32 89.50,511.32 89.50,510.39 90.62,510.39 90.62,510.04 91.27,510.04 91.27,509.56 92.30,509.56 92.30,511.12 92.84,511.12 92.84,510.40 93.41,510.40 93.41,511.11 94.00,511.11 94.00,522.8" fill="#a9a9a9"/>
<polygon points="97.10,522.8 97.10,509.99 97.69,509.99 97.69,510.09 98.21,510.09 98.21,509.68 98.93,509.68 98.93,510.59 99.53,510.59 99.53,510.04 100.56,510.04 100.56,509.56 101.23,509.56 101.23,509.02 102.01,509.02 102.01,509.68 102.99,509.68 102.99,509.63 104.08,509.63 104.08,510.02 104.97,510.02 104.97,509.26 105.45,509.26 105.45,510.63 106.15,510.63 106.15,511.64 106.77,511.64 106.77,510.29 107.75,510.29 107.75,510.75 108.76,510.75 108.76,509.31 109.66,509.31 109.66,510.91 110.60,510.91 110.60,509.89 111.71,509.89 111.71,510.11 112.43,510.11 112.43,510.66 113.01,510.66 113.01,510.73 113.83,510.73 113.83,509.56 114.37,509.56 114.37,508.90 115.11,508.90 115.11,509.64 116.03,509.64 116.03,510.43 116.88,510.43 116.88,510.03 117.88,510.03 117.88,511.41 118.80,511.41 118.80,510.88 119.88,510.88 119.88,510.60 120.90,510.60 120.90,510.20 121.45,510.20 121.45,510.60 122.32,510.60 122.32,509.43 123.20,509.43 123.20,509.99 123.80,509.99 123.80,508.90 124.72,508.90 124.72,510.63 125.42,510.63 125.42,509.80 126.46,509.80 126.46,511.77 127.00,511.77 127.00,510.05 127.77,510.05 127.77,510.58 128.24,510.58 128.24,511.01 128.85,511.01 128.85,510.06 129.53,510.06 129.53,510.00 130.54,510.00 130.54,510.02 131.55,510.02 131.55,510.29 132.55,510.29 132.55,509.40 133.30,509.40 133.30,509.18 134.25,509.18 134.25,509.19 135.06,509.19 135.06,509.11 136.12,509.11 136.12,511.27 137.24,511.27 137.24,509.55 137.70,509.55 137.70,522.8" fill="#a9a9a9"/>
<polygon points="140.20,522.8 140.20,510.08 140.93,510.08 140.93,509.56 141.90,509.56 141.90,509.45 142.49,509.45 142.49,510.18 143.12,510.18 143.12,510.16 144.25,510.16 144.25,510.19 145.35,510.19 145.35,509.88 145.84,509.88 145.84,512.00 146.80,512.00 146.80,509.26 147.49,509.26 147.49,508.90 148.64,508.90 148.64,509.94 149.21,509.94 149.21,510.12 150.22,510.12 150.22,509.98 150.75,509.98 150.75,509.69 151.53,509.69 151.53,511.63 152.54,511.63 152.54,509.81 153.08,509.81 153.08,509.49 153.88,509.49 153.88,510.10 154.35,510.10 154.35,511.70 155.46,511.70 155.46,511.14 156.42,511.14 156.42,509.20 157.46,509.20 157.46,511.35 158.32,511.35 158.32,511.97 159.32,511.97 159.32,509.68 160.39,509.68 160.39,509.92 161.07,509.92 161.07,509.78 161.86,509.78 161.86,509.92 162.48,509.92 162.48,510.97 163.00,510.97 163.00,510.10 163.59,510.10 163.59,509.83 164.49,509.83 164.49,510.95 164.98,510.95 164.98,511.35 165.76,511.35 165.76,510.49 166.71,510.49 166.71,509.46 167.65,509.46 167.65,509.66 168.73,509.66 168.73,509.72 169.35,509.72 169.35,510.81 170.07,510.81 170.07,510.42 170.97,510.42 170.97,510.44 171.48,510.44 171.48,510.87 171.96,510.87 171.96,508.90 173.06,508.90 173.06,508.90 174.16,508.90 174.16,509.93 174.80,509.93 174.80,511.90 175.32,511.90 175.32,511.47 175.90,511.47 175.90,511.35 176.71,511.35 176.71,510.10 177.78,510.10 177.78,511.99 178.62,511.99 178.62,510.84 179.50,510.84 179.50,510.37 180.01,510.37 180.01,509.56 180.66,509.56 180.66,511.88 181.13,511.88 181.13,510.98 181.60,510.98 181.60,522.8" fill="#a9a9a9"/>
<polygon points="184.10,522.8 184.10,509.89 184.62,509.89 184.62,510.58 185.66,510.58 185.66,509.08 186.32,509.08 186.32,510.17 187.20,510.17 187.20,511.37 187.65,511.37 187.65,509.50 188.59,509.50 188.59,510.26 189.35,510.26 189.35,510.52 190.26,510.52 190.26,511.70 191.27,511.70 191.27,511.39 192.22,511.39 192.22,509.59 193.26,509.59 193.26,509.04 193.84,509.04 193.84,510.48 194.78,510.48 194.78,509.07 195.48,509.07 195.48,508.95 196.24,508.95 196.24,510.95 197.34,510.95 197.34,510.44 198.49,510.44 198.49,510.03 199.11,510.03 199.11,511.37 200.18,511.37 200.18,510.52 201.17,510.52 201.17,510.47 202.18,510.47 202.18,510.45 203.20,510.45 203.20,510.13 203.91,510.13 203.91,510.88 204.47,510.88 204.47,510.76 205.30,510.76 205.30,511.21 206.39,511.21 206.39,510.31 206.90,510.31 206.90,509.31 207.99,509.31 207.99,508.90 208.94,508.90 208.94,511.23 209.70,511.23 209.70,510.11 210.67,510.11 210.67,510.16 211.30,510.16 211.30,509.24 211.89,509.24 211.89,509.14 212.79,509.14 212.79,509.20 213.66,509.20 213.66,509.91 214.16,509.91 214.16,511.50 214.71,511.50 214.71,509.11 215.84,509.11 215.84,510.75 216.82,510.75 216.82,510.24 217.49,510.24 217.49,510.22 218.25,510.22 218.25,511.01 219.35,511.01 219.35,509.77 219.82,509.77 219.82,510.50 220.87,510.50 220.87,510.60 221.52,510.60 221.52,509.38 222.60,509.38 222.60,509.19 223.46,509.19 223.46,510.39 224.01,510.39 224.01,509.39 224.50,509.39 224.50,522.8" fill="#a9a9a9"/>
<polygon points="227.30,522.8 227.30,509.28 228.00,509.28 228.00,510.20 229.01,510.20 229.01,508.90 229.82,508.90 229.82,508.90 230.83,508.90 230.83,509.16 231.81,509.16 231.81,509.39 232.42,509.39 232.42,510.17 233.32,510.17 233.32,510.48 233.80,510.48 233.80,510.75 234.42,510.75 234.42,509.95 234.95,509.95 234.95,510.51 235.46,510.51 235.46,509.98 236.04,509.98 236.04,509.59 236.57,509.59 236.57,509.24 237.35,509.24 237.35,511.19 237.85,511.19 237.85,509.67 238.69,509.67 238.69,510.78 239.74,510.78 239.74,509.68 240.56,509.68 240.56,509.80 241.61,509.80 241.61,509.08 242.25,509.08 242.25,510.68 243.21,510.68 243.21,508.90 243.88,508.90 243.88,508.90 244.59,508.90 244.59,508.90 245.37,508.90 245.37,511.79 246.18,511.79 246.18,508.95 247.15,508.95 247.15,510.04 247.95,510.04 247.95,510.48 248.50,510.48 248.50,510.74 249.47,510.74 249.47,510.79 250.55,510.79 250.55,509.56 251.42,509.56 251.42,510.81 252.02,510.81 252.02,509.55 252.57,509.55 252.57,510.06 253.43,510.06 253.43,511.70 254.36,511.70 254.36,509.95 254.97,509.95 254.97,510.59 256.08,510.59 256.08,509.87 256.97,509.87 256.97,509.10 257.56,509.10 257.56,511.04 258.17,511.04 258.17,510.70 258.90,510.70 258.90,508.90 259.37,508.90 259.37,509.02 260.40,509.02 260.40,509.30 260.90,509.30 260.90,522.8" fill="#a9a9a9"/>
<polygon points="264.30,522.8 264.30,511.48 264.85,511.48 264.85,510.19 265.92,510.19 265.92,509.29 266.48,509.29 266.48,509.63 267.22,509.63 267.22,510.49 268.27,510.49 268.27,511.31 269.38,511.31 269.38,509.54 270.47,509.54 270.47,511.43 271.12,511.43 271.12,510.72 271.87,510.72 271.87,509.24 272.88,509.24 272.88,509.22 273.41,509.22 273.41,508.90 274.28,508.90 274.28,510.68 275.40,510.68 275.40,509.69 276.48,509.69 276.48,510.24 277.41,510.24 277.41,509.91 278.12,509.91 278.12,510.07 278.62,510.07 278.62,510.37 279.40,510.37 279.40,510.25 279.86,510.25 279.86,510.12 280.80,510.12 280.80,510.95 281.92,510.95 281.92,510.98 282.68,510.98 282.68,511.47 283.41,511.47 283.41,511.40 284.02,511.40 284.02,510.27 284.94,510.27 284.94,509.68 285.54,509.68 285.54,508.90 286.02,508.90 286.02,508.90 286.76,508.90 286.76,509.16 287.87,509.16 287.87,509.63 288.82,509.63 288.82,509.48 289.60,509.48 289.60,509.20 290.17,509.20 290.17,509.24 291.15,509.24 291.15,509.95 292.05,509.95 292.05,510.08 292.63,510.08 292.63,510.71 293.26,510.71 293.26,511.08 294.31,511.08 294.31,511.33 294.90,511.33 294.90,510.05 295.86,510.05 295.86,510.24 296.31,510.24 296.31,509.86 296.76,509.86 296.76,509.55 297.71,509.55 297.71,511.25 298.81,511.25 298.81,511.52 299.40,511.52 299.40,522.8" fill="#a9a9a9"/>
<polygon points="302.10,522.8 302.10,509.25 302.61,509.25 302.61,509.97 303.25,509.97 303.25,510.25 303.94,510.25 303.94,509.54 305.04,509.54 305.04,510.58 305.60,510.58 305.60,511.20 306.55,511.20 306.55,510.13 307.56,510.13 307.56,509.80 308.14,509.80 308.14,510.72 309.15,510.72 309.15,509.31 310.06,509.31 310.06,509.35 310.65,509.35 310.65,509.55 311.54,509.55 311.54,509.46 312.29,509.46 312.29,509.82 312.76,509.82 312.76,510.08 313.41,510.08 313.41,509.69 314.29,509.69 314.29,510.58 314.96,510.58 314.96,509.77 315.52,509.77 315.52,508.90 316.55,508.90 316.55,509.82 317.55,509.82 317.55,509.93 318.51,509.93 318.51,510.03 319.02,510.03 319.02,509.92 319.58,509.92 319.58,511.56 320.35,511.56 320.35,510.03 321.16,510.03 321.16,510.29 322.11,510.29 322.11,509.69 322.63,509.69 322.63,509.08 323.42,509.08 323.42,509.56 324.02,509.56 324.02,509.85 324.97,509.85 324.97,510.51 325.74,510.51 325.74,510.74 326.62,510.74 326.62,509.05 327.52,509.05 327.52,508.90 328.65,508.90 328.65,509.96 329.43,509.96 329.43,509.62 329.93,509.62 329.93,510.43 330.68,510.43 330.68,509.66 331.20,509.66 331.20,511.44 331.85,511.44 331.85,510.78 332.37,510.78 332.37,509.78 333.20,509.78 333.20,511.25 333.77,511.25 333.77,510.81 334.45,510.81 334.45,509.32 335.59,509.32 335.59,509.59 335.90,509.59 335.90,522.8" fill="#a9a9a9"/>
<polygon points="338.70,522.8 338.70,509.92 339.66,509.92 339.66,509.45 340.78,509.45 340.78,509.70 341.47,509.70 341.47,509.68 342.25,509.68 342.25,511.60 343.30,511.60 343.30,510.20 344.27,510.20 344.27,509.43 345.01,509.43 345.01,509.92 345.87,509.92 345.87,508.90 346.74,508.90 346.74,510.34 347.42,510.34 347.42,510.18 348.05,510.18 348.05,509.34 348.75,509.34 348.75,509.89 349.36,509.89 349.36,511.36 350.26,511.36 350.26,510.81 350.88,510.81 350.88,510.82 352.02,510.82 352.02,510.79 353.04,510.79 353.04,509.91 353.76,509.91 353.76,511.20 354.58,511.20 354.58,510.19 355.27,510.19 355.27,511.00 356.34,511.00 356.34,508.90 357.31,508.90 357.31,509.54 357.79,509.54 357.79,510.36 358.56,510.36 358.56,509.19 359.56,509.19 359.56,510.60 360.25,510.60 360.25,509.60 360.93,509.60 360.93,509.52 361.54,509.52 361.54,509.22 362.51,509.22 362.51,509.20 363.24,509.20 363.24,510.97 363.90,510.97 363.90,510.84 364.68,510.84 364.68,511.53 365.35,511.53 365.35,511.35 365.88,511.35 365.88,510.53 366.69,510.53 366.69,509.99 367.76,509.99 367.76,509.42 368.46,509.42 368.46,508.90 369.40,508.90 369.40,509.14 369.87,509.14 369.87,509.86 370.82,509.86 370.82,509.39 371.10,509.39 371.10,522.8" fill="#a9a9a9"/>
<polygon points="374.10,522.8 374.10,510.21 375.24,510.21 375.24,510.30 376.19,510.30 376.19,511.05 376.85,511.05 376.85,509.52 377.43,509.52 377.43,509.64 378.35,509.64 378.35,508.90 379.50,508.90 379.50,510.04 380.08,510.04 380.08,510.94 381.06,510.94 381.06,510.24 382.16,510.24 382.16,511.64 383.24,511.64 383.24,510.08 384.04,510.08 384.04,510.84 384.60,510.84 384.60,510.45 385.34,510.45 385.34,510.40 385.99,510.40 385.99,509.85 386.76,509.85 386.76,511.48 387.72,511.48 387.72,510.55 388.34,510.55 388.34,509.78 389.22,509.78 389.22,511.47 390.08,511.47 390.08,511.25 391.02,511.25 391.02,510.75 392.06,510.75 392.06,511.31 393.17,511.31 393.17,509.19 393.67,509.19 393.67,509.95 394.22,509.95 394.22,509.44 395.37,509.44 395.37,509.50 395.99,509.50 395.99,509.08 396.73,509.08 396.73,509.76 397.29,509.76 397.29,509.07 397.88,509.07 397.88,508.90 398.45,508.90 398.45,508.90 399.59,508.90 399.59,509.62 400.20,509.62 400.20,522.8" fill="#a9a9a9"/>
<polygon points="403.00,522.8 403.00,511.16 403.70,511.16 403.70,509.43 404.63,509.43 404.63,509.57 405.69,509.57 405.69,511.99 406.65,511.99 406.65,509.13 407.74,509.13 407.74,509.95 408.40,509.95 408.40,510.31 409.36,510.31 409.36,511.67 410.07,511.67 410.07,511.70 410.93,511.70 410.93,510.99 412.04,510.99 412.04,510.06 412.62,510.06 412.62,509.53 413.63,509.53 413.63,509.05 414.42,509.05 414.42,509.31 415.49,509.31 415.49,509.64 416.60,509.64 416.60,509.89 417.28,509.89 417.28,509.38 418.28,509.38 418.28,509.27 419.00,509.27 419.00,508.90 419.83,508.90 419.83,508.90 420.85,508.90 420.85,509.01 421.32,509.01 421.32,509.04 422.33,509.04 422.33,509.31 422.82,509.31 422.82,509.87 423.78,509.87 423.78,511.66 424.61,511.66 424.61,511.36 425.71,511.36 425.71,510.23 426.68,510.23 426.68,510.86 427.20,510.86 427.20,510.71 428.07,510.71 428.07,511.49 428.55,511.49 428.55,511.85 429.45,511.85 429.45,509.64 429.80,509.64 429.80,522.8" fill="#a9a9a9"/>
<polygon points="432.70,522.8 432.70,508.90 433.31,508.90 433.31,510.18 434.26,510.18 434.26,508.99 434.81,508.99 434.81,509.35 435.30,509.35 435.30,509.66 435.78,509.66 435.78,509.51 436.63,509.51 436.63,509.80 437.50,509.80 437.50,509.48 438.61,509.48 438.61,510.47 439.45,510.47 439.45,509.86 440.17,509.86 440.17,511.94 441.17,511.94 441.17,511.94 441.91,511.94 441.91,510.59 442.87,510.59 442.87,509.88 443.99,509.88 443.99,510.85 444.66,510.85 444.66,509.76 445.75,509.76 445.75,510.90 446.77,510.90 446.77,510.65 447.44,510.65 447.44,509.66 448.32,509.66 448.32,508.90 449.11,508.90 449.11,508.90 449.62,508.90 449.62,510.55 450.18,510.55 450.18,510.33 451.26,510.33 451.26,510.11 452.36,510.11 452.36,508.90 452.89,508.90 452.89,509.11 453.95,509.11 453.95,510.20 454.58,510.20 454.58,510.97 455.09,510.97 455.09,510.39 455.69,510.39 455.69,510.84 456.40,510.84 456.40,511.69 457.55,511.69 457.55,509.60 458.57,509.60 458.57,510.50 459.62,510.50 459.62,510.16 460.40,510.16 460.40,509.40 460.96,509.40 460.96,509.95 462.10,509.95 462.10,509.40 462.64,509.40 462.64,509.40 463.26,509.40 463.26,509.75 464.05,509.75 464.05,508.90 465.12,508.90 465.12,509.49 465.80,509.49 465.80,522.8" fill="#a9a9a9"/>
<polygon points="468.40,522.8 468.40,510.36 468.98,510.36 468.98,509.23 469.54,509.23 469.54,510.41 470.54,510.41 470.54,509.05 471.15,509.05 471.15,510.48 472.28,510.48 472.28,510.33 473.10,510.33 473.10,511.40 473.62,511.40 473.62,511.70 474.55,511.70 474.55,511.12 475.32,511.12 475.32,511.09 476.42,511.09 476.42,509.68 477.26,509.68 477.26,509.39 477.80,509.39 477.80,509.16 478.44,509.16 478.44,509.00 479.42,509.00 479.42,509.93 480.49,509.93 480.49,509.37 481.63,509.37 481.63,509.08 482.76,509.08 482.76,509.49 483.43,509.49 483.43,508.96 483.96,508.96 483.96,509.05 484.81,509.05 484.81,511.17 485.51,511.17 485.51,511.70 486.34,511.70 486.34,511.54 487.04,511.54 487.04,510.63 488.17,510.63 488.17,510.03 488.67,510.03 488.67,509.72 489.26,509.72 489.26,509.70 490.30,509.70 490.30,509.37 491.40,509.37 491.40,510.81 492.35,510.81 492.35,508.98 493.09,508.98 493.09,510.82 493.94,510.82 493.94,509.38 495.02,509.38 495.02,510.19 495.48,510.19 495.48,509.36 496.52,509.36 496.52,509.16 497.15,509.16 497.15,511.04 497.83,511.04 497.83,511.66 498.77,511.66 498.77,509.76 499.80,509.76 499.80,522.8" fill="#a9a9a9"/>
<line x1="43" y1="508.2" x2="501.2" y2="508.2" stroke="#8c4038" stroke-width="0.8" stroke-dasharray="1.6,1.4"/>
<line x1="42.1" y1="398.8" x2="42.1" y2="521.4" stroke="#333" stroke-width="1"/>
<line x1="38.6" y1="521.40" x2="42.1" y2="521.40" stroke="#333" stroke-width="1"/>
<text x="36.1" y="523.5" font-size="6.2" text-anchor="end" font-weight="normal" fill="#000" stroke="#000" stroke-width="0.2">0</text>
<line x1="38.6" y1="488.20" x2="42.1" y2="488.20" stroke="#333" stroke-width="1"/>
<text x="36.1" y="490.3" font-size="6.2" text-anchor="end" font-weight="normal" fill="#000" stroke="#000" stroke-width="0.2">10</text>
<line x1="38.6" y1="455.00" x2="42.1" y2="455.00" stroke="#333" stroke-width="1"/>
<text x="36.1" y="457.1" font-size="6.2" text-anchor="end" font-weight="normal" fill="#000" stroke="#000" stroke-width="0.2">20</text>
<line x1="38.6" y1="421.80" x2="42.1" y2="421.80" stroke="#333" stroke-width="1"/>
<text x="36.1" y="423.9" font-size="6.2" text-anchor="end" font-weight="normal" fill="#000" stroke="#000" stroke-width="0.2">30</text>
<line x1="42.6" y1="525.4" x2="500.6" y2="525.4" stroke="#7a7a7a" stroke-width="1.3"/>
<line x1="42.60" y1="525.4" x2="42.60" y2="528.9" stroke="#222" stroke-width="1.1"/>
<text transform="translate(42.60,536.40) scale(0.95,1)" font-size="6.2" text-anchor="middle" font-weight="bold" fill="#111">Chr</text>
<line x1="70.45" y1="525.4" x2="70.45" y2="528.9" stroke="#222" stroke-width="1.1"/>
<text transform="translate(70.45,536.40) scale(0.95,1)" font-size="6.2" text-anchor="middle" font-weight="bold" fill="#111">1</text>
<line x1="117.70" y1="525.4" x2="117.70" y2="528.9" stroke="#222" stroke-width="1.1"/>
<text transform="translate(117.70,536.40) scale(0.95,1)" font-size="6.2" text-anchor="middle" font-weight="bold" fill="#111">2</text>
<line x1="161.45" y1="525.4" x2="161.45" y2="528.9" stroke="#222" stroke-width="1.1"/>
<text transform="translate(161.45,536.40) scale(0.95,1)" font-size="6.2" text-anchor="middle" font-weight="bold" fill="#111">3</text>
<line x1="204.55" y1="525.4" x2="204.55" y2="528.9" stroke="#222" stroke-width="1.1"/>
<text transform="translate(204.55,536.40) scale(0.95,1)" font-size="6.2" text-anchor="middle" font-weight="bold" fill="#111">4</text>
<line x1="244.50" y1="525.4" x2="244.50" y2="528.9" stroke="#222" stroke-width="1.1"/>
<text transform="translate(244.50,536.40) scale(0.95,1)" font-size="6.2" text-anchor="middle" font-weight="bold" fill="#111">5</text>
<line x1="282.05" y1="525.4" x2="282.05" y2="528.9" stroke="#222" stroke-width="1.1"/>
<text transform="translate(282.05,536.40) scale(0.95,1)" font-size="6.2" text-anchor="middle" font-weight="bold" fill="#111">6</text>
<line x1="319.45" y1="525.4" x2="319.45" y2="528.9" stroke="#222" stroke-width="1.1"/>
<text transform="translate(319.45,536.40) scale(0.95,1)" font-size="6.2" text-anchor="middle" font-weight="bold" fill="#111">7</text>
<line x1="355.15" y1="525.4" x2="355.15" y2="528.9" stroke="#222" stroke-width="1.1"/>
<text transform="translate(355.15,536.40) scale(0.95,1)" font-size="6.2" text-anchor="middle" font-weight="bold" fill="#111">8</text>
<line x1="387.45" y1="525.4" x2="387.45" y2="528.9" stroke="#222" stroke-width="1.1"/>
<text transform="translate(387.45,536.40) scale(0.95,1)" font-size="6.2" text-anchor="middle" font-weight="bold" fill="#111">9</text>
<line x1="416.70" y1="525.4" x2="416.70" y2="528.9" stroke="#222" stroke-width="1.1"/>
<text transform="translate(416.70,536.40) scale(0.95,1)" font-size="6.2" text-anchor="middle" font-weight="bold" fill="#111">10</text>
<line x1="449.50" y1="525.4" x2="449.50" y2="528.9" stroke="#222" stroke-width="1.1"/>
<text transform="translate(449.50,536.40) scale(0.95,1)" font-size="6.2" text-anchor="middle" font-weight="bold" fill="#111">11</text>
<line x1="484.50" y1="525.4" x2="484.50" y2="528.9" stroke="#222" stroke-width="1.1"/>
<text transform="translate(484.50,536.40) scale(0.95,1)" font-size="6.2" text-anchor="middle" font-weight="bold" fill="#111">12</text>
<text transform="translate(278.2,547.00) scale(0.955,1)" font-size="9.0" text-anchor="middle" fill="#111" stroke="#111" stroke-width="0.15">Chromosome</text>
<g transform="translate(18.1,478.70) rotate(-90)" fill="#222">
<line x1="0.1" y1="-2.7" x2="5.4" y2="-2.7" stroke="#333" stroke-width="0.85"/>
<text x="8.6" y="0" font-size="8.3">log</text>
<text x="19.4" y="1.5" font-size="5.9">10</text>
<text x="26.2" y="0" font-size="8.2">(</text>
<text x="29.4" y="0" font-size="8.2" font-style="italic">p</text>
<text x="35.5" y="0" font-size="8.2">)</text>
</g>
<text x="47.1" y="395.0" font-size="8.3" text-anchor="start" font-weight="normal" fill="#111" >ASV</text>
<circle cx="49.0" cy="403.40" r="2.1" fill="#e0363c"/>
<text x="55.5" y="406.0" font-size="7.2" text-anchor="start" font-weight="normal" fill="#000" letter-spacing="0.05">Whole-2016GZ</text>
<circle cx="49.0" cy="413.14" r="2.1" fill="#1d5293"/>
<text x="55.5" y="415.74" font-size="7.2" text-anchor="start" font-weight="normal" fill="#000" letter-spacing="0.05">Whole-2018YJ</text>
<circle cx="49.0" cy="422.88" r="2.1" fill="#e48b32"/>
<text x="55.5" y="425.48" font-size="7.2" text-anchor="start" font-weight="normal" fill="#000" letter-spacing="0.05">Indica-2016GZ</text>
<circle cx="49.0" cy="432.62" r="2.1" fill="#52c07e"/>
<text x="55.5" y="435.22" font-size="7.2" text-anchor="start" font-weight="normal" fill="#000" letter-spacing="0.05">Indica-2018YJ</text>
<circle cx="49.0" cy="442.36" r="2.1" fill="#3e0b46"/>
<text x="55.5" y="444.96" font-size="7.2" text-anchor="start" font-weight="normal" fill="#000" letter-spacing="0.05">Japonica-2016GZ</text>
<circle cx="49.0" cy="452.10" r="2.1" fill="#0c4a4c"/>
<text x="55.5" y="454.7" font-size="7.2" text-anchor="start" font-weight="normal" fill="#000" letter-spacing="0.05">Japonica-2018YJ</text>
<circle cx="52" cy="503.5" r="1.75" fill="#ee8b2c" stroke="#d8761c" stroke-width="0.7" fill-opacity="0.92"/>
<circle cx="52" cy="506.5" r="1.75" fill="#ee8b2c" stroke="#d8761c" stroke-width="0.7" fill-opacity="0.92"/>
<circle cx="52" cy="509" r="1.75" fill="#ee8b2c" stroke="#d8761c" stroke-width="0.7" fill-opacity="0.92"/>
<circle cx="60.3" cy="502" r="1.75" fill="#e8353d" stroke="#c92a32" stroke-width="0.7" fill-opacity="0.92"/>
<circle cx="60.3" cy="505" r="1.75" fill="#e8353d" stroke="#c92a32" stroke-width="0.7" fill-opacity="0.92"/>
<circle cx="61" cy="507.5" r="1.65" fill="#d8d8f0" stroke="#1c1c70" stroke-width="1.1199999999999999" fill-opacity="0.92"/>
<circle cx="72" cy="504" r="1.75" fill="#e8353d" stroke="#c92a32" stroke-width="0.7" fill-opacity="0.92"/>
<circle cx="74" cy="501" r="1.75" fill="#e8353d" stroke="#c92a32" stroke-width="0.7" fill-opacity="0.92"/>
<circle cx="71" cy="507" r="1.75" fill="#e8353d" stroke="#c92a32" stroke-width="0.7" fill-opacity="0.92"/>
<circle cx="73.5" cy="505.5" r="1.65" fill="#6fd6d6" stroke="#0e5a5a" stroke-width="1.1199999999999999" fill-opacity="0.92"/>
<circle cx="72.5" cy="508" r="1.75" fill="#2a2a80" stroke="#1c1c60" stroke-width="0.7" fill-opacity="0.92"/>
<circle cx="81" cy="506" r="1.75" fill="#4a82c4" stroke="#2f63a6" stroke-width="0.7" fill-opacity="0.92"/>
<circle cx="84" cy="503" r="1.75" fill="#4a82c4" stroke="#2f63a6" stroke-width="0.7" fill-opacity="0.92"/>
<circle cx="86" cy="502" r="1.75" fill="#7aaee4" stroke="#5b8ccb" stroke-width="0.7" fill-opacity="0.92"/>
<circle cx="85.5" cy="508" r="1.65" fill="#8ad6a0" stroke="#1f6a3a" stroke-width="1.1199999999999999" fill-opacity="0.92"/>
<circle cx="90.5" cy="506" r="1.75" fill="#f7c48e" stroke="#efac6a" stroke-width="0.7" fill-opacity="0.92"/>
<circle cx="99" cy="505" r="1.75" fill="#a8e6c2" stroke="#86d4a6" stroke-width="0.7" fill-opacity="0.92"/>
<circle cx="102" cy="507.5" r="1.75" fill="#4dbd7d" stroke="#35a566" stroke-width="0.7" fill-opacity="0.92"/>
<circle cx="107" cy="501" r="1.75" fill="#e8353d" stroke="#c92a32" stroke-width="0.7" fill-opacity="0.92"/>
<circle cx="107" cy="504" r="1.75" fill="#e8353d" stroke="#c92a32" stroke-width="0.7" fill-opacity="0.92"/>
<circle cx="107" cy="509" r="1.75" fill="#ea6a3a" stroke="#d05428" stroke-width="0.7" fill-opacity="0.92"/>
<circle cx="107" cy="506.5" r="1.65" fill="#c090c8" stroke="#4c0f52" stroke-width="1.1199999999999999" fill-opacity="0.92"/>
<circle cx="117" cy="507.3" r="1.75" fill="#1c5a9c" stroke="#134a84" stroke-width="0.7" fill-opacity="0.92"/>
<circle cx="130.5" cy="507" r="1.75" fill="#4a82c4" stroke="#2f63a6" stroke-width="0.7" fill-opacity="0.92"/>
<circle cx="134" cy="507" r="1.75" fill="#f29aa2" stroke="#e27c86" stroke-width="0.7" fill-opacity="0.92"/>
<circle cx="141" cy="501.5" r="1.75" fill="#ee8b2c" stroke="#d8761c" stroke-width="0.7" fill-opacity="0.92"/>
<circle cx="141" cy="504.5" r="1.75" fill="#ee8b2c" stroke="#d8761c" stroke-width="0.7" fill-opacity="0.92"/>
<circle cx="141" cy="507" r="1.75" fill="#ee8b2c" stroke="#d8761c" stroke-width="0.7" fill-opacity="0.92"/>
<circle cx="148" cy="507" r="1.75" fill="#e8353d" stroke="#c92a32" stroke-width="0.7" fill-opacity="0.92"/>
<circle cx="151.5" cy="508" r="1.75" fill="#f29aa2" stroke="#e27c86" stroke-width="0.7" fill-opacity="0.92"/>
<circle cx="155" cy="504" r="1.75" fill="#f7c48e" stroke="#efac6a" stroke-width="0.7" fill-opacity="0.92"/>
<circle cx="167.5" cy="505.5" r="1.75" fill="#f29aa2" stroke="#e27c86" stroke-width="0.7" fill-opacity="0.92"/>
<circle cx="167.5" cy="507.5" r="1.75" fill="#ba8ace" stroke="#9c6cb2" stroke-width="0.7" fill-opacity="0.92"/>
<circle cx="191.5" cy="503" r="1.75" fill="#7aaee4" stroke="#5b8ccb" stroke-width="0.7" fill-opacity="0.92"/>
<circle cx="191" cy="506" r="1.75" fill="#4dbd7d" stroke="#35a566" stroke-width="0.7" fill-opacity="0.92"/>
<circle cx="191" cy="508" r="1.75" fill="#4dbd7d" stroke="#35a566" stroke-width="0.7" fill-opacity="0.92"/>
<circle cx="199.5" cy="504.5" r="1.75" fill="#f7c48e" stroke="#efac6a" stroke-width="0.7" fill-opacity="0.92"/>
<circle cx="204.5" cy="508" r="1.75" fill="#4dbd7d" stroke="#35a566" stroke-width="0.7" fill-opacity="0.92"/>
<circle cx="208" cy="507.5" r="1.75" fill="#4dbd7d" stroke="#35a566" stroke-width="0.7" fill-opacity="0.92"/>
<circle cx="212" cy="506" r="1.75" fill="#5cc8c8" stroke="#2c9c9c" stroke-width="0.7" fill-opacity="0.92"/>
<circle cx="214" cy="508" r="1.75" fill="#0f5a5a" stroke="#0a4444" stroke-width="0.7" fill-opacity="0.92"/>
<circle cx="215.5" cy="504" r="1.75" fill="#e8353d" stroke="#c92a32" stroke-width="0.7" fill-opacity="0.92"/>
<circle cx="219.5" cy="504.5" r="1.75" fill="#a8e6c2" stroke="#86d4a6" stroke-width="0.7" fill-opacity="0.92"/>
<circle cx="219.5" cy="507.5" r="1.75" fill="#ee8b2c" stroke="#d8761c" stroke-width="0.7" fill-opacity="0.92"/>
<circle cx="220" cy="508.5" r="1.75" fill="#ee8b2c" stroke="#d8761c" stroke-width="0.7" fill-opacity="0.92"/>
<circle cx="229.5" cy="508" r="1.75" fill="#ee8b2c" stroke="#d8761c" stroke-width="0.7" fill-opacity="0.92"/>
<circle cx="233" cy="500.5" r="1.75" fill="#f29aa2" stroke="#e27c86" stroke-width="0.7" fill-opacity="0.92"/>
<circle cx="233" cy="503" r="1.75" fill="#e8353d" stroke="#c92a32" stroke-width="0.7" fill-opacity="0.92"/>
<circle cx="233" cy="506.5" r="1.75" fill="#4c0f52" stroke="#3a0840" stroke-width="0.7" fill-opacity="0.92"/>
<circle cx="233" cy="508" r="1.75" fill="#4c0f52" stroke="#3a0840" stroke-width="0.7" fill-opacity="0.92"/>
<circle cx="248" cy="506.5" r="1.75" fill="#a8e6c2" stroke="#86d4a6" stroke-width="0.7" fill-opacity="0.92"/>
<circle cx="250" cy="505" r="1.75" fill="#a8e6c2" stroke="#86d4a6" stroke-width="0.7" fill-opacity="0.92"/>
<circle cx="258.5" cy="507.5" r="1.75" fill="#ee8b2c" stroke="#d8761c" stroke-width="0.7" fill-opacity="0.92"/>
<circle cx="272" cy="399.1" r="1.75" fill="#a8e6c2" stroke="#86d4a6" stroke-width="0.7" fill-opacity="0.92"/>
<circle cx="272" cy="456" r="1.75" fill="#4a82c4" stroke="#2f63a6" stroke-width="0.7" fill-opacity="0.92"/>
<circle cx="272" cy="465.4" r="1.75" fill="#f29aa2" stroke="#e27c86" stroke-width="0.7" fill-opacity="0.92"/>
<circle cx="272" cy="472.8" r="1.75" fill="#f7c48e" stroke="#efac6a" stroke-width="0.7" fill-opacity="0.92"/>
<circle cx="272" cy="493.9" r="1.75" fill="#7aaee4" stroke="#5b8ccb" stroke-width="0.7" fill-opacity="0.92"/>
<circle cx="271" cy="502" r="1.75" fill="#0f5a5a" stroke="#0a4444" stroke-width="0.7" fill-opacity="0.92"/>
<circle cx="271" cy="505" r="1.75" fill="#0f5a5a" stroke="#0a4444" stroke-width="0.7" fill-opacity="0.92"/>
<circle cx="271" cy="508" r="1.75" fill="#0f5a5a" stroke="#0a4444" stroke-width="0.7" fill-opacity="0.92"/>
<circle cx="275" cy="502" r="1.75" fill="#ba8ace" stroke="#9c6cb2" stroke-width="0.7" fill-opacity="0.92"/>
<circle cx="277" cy="507.5" r="1.75" fill="#4c0f52" stroke="#3a0840" stroke-width="0.7" fill-opacity="0.92"/>
<circle cx="282" cy="508" r="1.75" fill="#f29aa2" stroke="#e27c86" stroke-width="0.7" fill-opacity="0.92"/>
<circle cx="290.5" cy="507" r="1.75" fill="#e8353d" stroke="#c92a32" stroke-width="0.7" fill-opacity="0.92"/>
<circle cx="295" cy="502" r="1.75" fill="#a8e6c2" stroke="#86d4a6" stroke-width="0.7" fill-opacity="0.92"/>
<circle cx="294" cy="508" r="1.65" fill="#6fd6d6" stroke="#0e5a5a" stroke-width="1.1199999999999999" fill-opacity="0.92"/>
<circle cx="298" cy="508" r="1.75" fill="#5cc8c8" stroke="#2c9c9c" stroke-width="0.7" fill-opacity="0.92"/>
<circle cx="304.5" cy="505" r="1.75" fill="#e8353d" stroke="#c92a32" stroke-width="0.7" fill-opacity="0.92"/>
<circle cx="303" cy="508" r="1.75" fill="#a8e6c2" stroke="#86d4a6" stroke-width="0.7" fill-opacity="0.92"/>
<circle cx="322.8" cy="502.5" r="1.75" fill="#4dbd7d" stroke="#35a566" stroke-width="0.7" fill-opacity="0.92"/>
<circle cx="322.8" cy="505.5" r="1.75" fill="#4dbd7d" stroke="#35a566" stroke-width="0.7" fill-opacity="0.92"/>
<circle cx="322.8" cy="508" r="1.75" fill="#4dbd7d" stroke="#35a566" stroke-width="0.7" fill-opacity="0.92"/>
<circle cx="325.8" cy="504.5" r="1.75" fill="#4dbd7d" stroke="#35a566" stroke-width="0.7" fill-opacity="0.92"/>
<circle cx="325.8" cy="507.5" r="1.75" fill="#4dbd7d" stroke="#35a566" stroke-width="0.7" fill-opacity="0.92"/>
<circle cx="330" cy="508" r="1.75" fill="#ee8b2c" stroke="#d8761c" stroke-width="0.7" fill-opacity="0.92"/>
<circle cx="334.5" cy="505" r="1.75" fill="#ee8b2c" stroke="#d8761c" stroke-width="0.7" fill-opacity="0.92"/>
<circle cx="334.5" cy="508" r="1.75" fill="#ee8b2c" stroke="#d8761c" stroke-width="0.7" fill-opacity="0.92"/>
<circle cx="334.5" cy="502" r="1.75" fill="#f7c48e" stroke="#efac6a" stroke-width="0.7" fill-opacity="0.92"/>
<circle cx="340.5" cy="504" r="1.75" fill="#e8353d" stroke="#c92a32" stroke-width="0.7" fill-opacity="0.92"/>
<circle cx="339.5" cy="507" r="1.65" fill="#f0a0c0" stroke="#8a1040" stroke-width="1.1199999999999999" fill-opacity="0.92"/>
<circle cx="344" cy="505.5" r="1.75" fill="#5cc8c8" stroke="#2c9c9c" stroke-width="0.7" fill-opacity="0.92"/>
<circle cx="345.5" cy="507" r="1.75" fill="#0f5a5a" stroke="#0a4444" stroke-width="0.7" fill-opacity="0.92"/>
<circle cx="348" cy="507" r="1.75" fill="#4c0f52" stroke="#3a0840" stroke-width="0.7" fill-opacity="0.92"/>
<circle cx="353" cy="506.5" r="1.75" fill="#f7c48e" stroke="#efac6a" stroke-width="0.7" fill-opacity="0.92"/>
<circle cx="370" cy="507" r="1.75" fill="#f7c48e" stroke="#efac6a" stroke-width="0.7" fill-opacity="0.92"/>
<circle cx="385" cy="508" r="1.75" fill="#7aaee4" stroke="#5b8ccb" stroke-width="0.7" fill-opacity="0.92"/>
<circle cx="389.5" cy="508" r="1.75" fill="#5cc8c8" stroke="#2c9c9c" stroke-width="0.7" fill-opacity="0.92"/>
<circle cx="392" cy="507.5" r="1.75" fill="#4dbd7d" stroke="#35a566" stroke-width="0.7" fill-opacity="0.92"/>
<circle cx="395" cy="508" r="1.75" fill="#4dbd7d" stroke="#35a566" stroke-width="0.7" fill-opacity="0.92"/>
<circle cx="397.5" cy="508" r="1.75" fill="#f7c48e" stroke="#efac6a" stroke-width="0.7" fill-opacity="0.92"/>
<circle cx="397.5" cy="503" r="1.75" fill="#e8353d" stroke="#c92a32" stroke-width="0.7" fill-opacity="0.92"/>
<circle cx="397.5" cy="505.5" r="1.75" fill="#e8353d" stroke="#c92a32" stroke-width="0.7" fill-opacity="0.92"/>
<circle cx="407" cy="508" r="1.75" fill="#0f5a5a" stroke="#0a4444" stroke-width="0.7" fill-opacity="0.92"/>
<circle cx="408" cy="505.5" r="1.75" fill="#a8e6c2" stroke="#86d4a6" stroke-width="0.7" fill-opacity="0.92"/>
<circle cx="415" cy="506" r="1.75" fill="#1c5a9c" stroke="#134a84" stroke-width="0.7" fill-opacity="0.92"/>
<circle cx="416.5" cy="501" r="1.75" fill="#4dbd7d" stroke="#35a566" stroke-width="0.7" fill-opacity="0.92"/>
<circle cx="416.5" cy="504" r="1.75" fill="#4dbd7d" stroke="#35a566" stroke-width="0.7" fill-opacity="0.92"/>
<circle cx="416.5" cy="507" r="1.75" fill="#4dbd7d" stroke="#35a566" stroke-width="0.7" fill-opacity="0.92"/>
<circle cx="425" cy="507.5" r="1.75" fill="#f29aa2" stroke="#e27c86" stroke-width="0.7" fill-opacity="0.92"/>
<circle cx="428.5" cy="504" r="1.75" fill="#e8353d" stroke="#c92a32" stroke-width="0.7" fill-opacity="0.92"/>
<circle cx="428.5" cy="507" r="1.75" fill="#e8353d" stroke="#c92a32" stroke-width="0.7" fill-opacity="0.92"/>
<circle cx="452" cy="495.6" r="1.75" fill="#7aaee4" stroke="#5b8ccb" stroke-width="0.7" fill-opacity="0.92"/>
<circle cx="455.7" cy="500.4" r="1.75" fill="#7aaee4" stroke="#5b8ccb" stroke-width="0.7" fill-opacity="0.92"/>
<circle cx="453" cy="507.5" r="1.75" fill="#4a82c4" stroke="#2f63a6" stroke-width="0.7" fill-opacity="0.92"/>
<circle cx="455.5" cy="507.5" r="1.65" fill="#8ad6a0" stroke="#1f6a3a" stroke-width="1.1199999999999999" fill-opacity="0.92"/>
<circle cx="460.5" cy="505" r="1.75" fill="#0f5a5a" stroke="#0a4444" stroke-width="0.7" fill-opacity="0.92"/>
<circle cx="460.5" cy="507.5" r="1.75" fill="#0f5a5a" stroke="#0a4444" stroke-width="0.7" fill-opacity="0.92"/>
<circle cx="472" cy="508" r="1.75" fill="#f7c48e" stroke="#efac6a" stroke-width="0.7" fill-opacity="0.92"/>
<circle cx="480.5" cy="505" r="1.75" fill="#e8353d" stroke="#c92a32" stroke-width="0.7" fill-opacity="0.92"/>
<circle cx="480.5" cy="508" r="1.75" fill="#e8353d" stroke="#c92a32" stroke-width="0.7" fill-opacity="0.92"/>
<circle cx="487" cy="507" r="1.75" fill="#f7c48e" stroke="#efac6a" stroke-width="0.7" fill-opacity="0.92"/>
<circle cx="494.5" cy="507.5" r="1.75" fill="#4a82c4" stroke="#2f63a6" stroke-width="0.7" fill-opacity="0.92"/>
<circle cx="499" cy="507.5" r="1.75" fill="#4a82c4" stroke="#2f63a6" stroke-width="0.7" fill-opacity="0.92"/>
<line x1="555.2" y1="132.8" x2="675.14" y2="120.62" stroke="#8e3530" stroke-width="1" stroke-dasharray="3.2,2.4"/>
<polygon points="603.00,125.20 620.00,122.60 640.00,120.00 649.00,119.20 649.00,124.00 640.00,125.00 620.00,127.00 603.00,127.00" fill="#2f9e7c"/>
<polygon points="553.60,131.70 595.00,125.80 610.00,124.60 620.00,124.00 640.00,122.20 649.20,121.40 649.20,124.20 640.00,125.20 620.00,128.00 610.00,128.80 595.00,130.40 553.60,134.40" fill="#0d5757"/>
<circle cx="650.6" cy="122.8" r="1.1" fill="#c0503a"/>
<circle cx="652.4" cy="122.4" r="1.1" fill="#d8c060"/>
<circle cx="654.3" cy="122.1" r="1.1" fill="#2a4a4a"/>
<circle cx="656.3" cy="121.8" r="1.1" fill="#c84a3a"/>
<circle cx="655.8" cy="19.3" r="1.45" fill="#7aaee4" stroke="#5b8ccb" stroke-width="0.6" fill-opacity="0.92"/>
<circle cx="655.9" cy="30" r="1.45" fill="#f29aa2" stroke="#e27c86" stroke-width="0.6" fill-opacity="0.92"/>
<circle cx="651.6" cy="42.3" r="1.45" fill="#ba8ace" stroke="#9c6cb2" stroke-width="0.6" fill-opacity="0.92"/>
<circle cx="654.5" cy="61.6" r="1.45" fill="#a8e6c2" stroke="#86d4a6" stroke-width="0.6" fill-opacity="0.92"/>
<circle cx="654.5" cy="68.8" r="1.45" fill="#f7c48e" stroke="#efac6a" stroke-width="0.6" fill-opacity="0.92"/>
<circle cx="646.7" cy="74.3" r="1.45" fill="#ba8ace" stroke="#9c6cb2" stroke-width="0.6" fill-opacity="0.92"/>
<circle cx="643.7" cy="84.7" r="1.45" fill="#ba8ace" stroke="#9c6cb2" stroke-width="0.6" fill-opacity="0.92"/>
<circle cx="641.6" cy="88.9" r="1.45" fill="#ba8ace" stroke="#9c6cb2" stroke-width="0.6" fill-opacity="0.92"/>
<circle cx="651.8" cy="92.1" r="1.45" fill="#5cc8c8" stroke="#2c9c9c" stroke-width="0.6" fill-opacity="0.92"/>
<circle cx="640" cy="105.8" r="1.45" fill="#ba8ace" stroke="#9c6cb2" stroke-width="0.6" fill-opacity="0.92"/>
<circle cx="649.9" cy="107.2" r="1.45" fill="#f7c48e" stroke="#efac6a" stroke-width="0.6" fill-opacity="0.92"/>
<circle cx="649" cy="108.7" r="1.45" fill="#ee8b2c" stroke="#d8761c" stroke-width="0.6" fill-opacity="0.92"/>
<circle cx="647.9" cy="109.8" r="1.45" fill="#f29aa2" stroke="#e27c86" stroke-width="0.6" fill-opacity="0.92"/>
<circle cx="639" cy="112.9" r="1.45" fill="#ba8ace" stroke="#9c6cb2" stroke-width="0.6" fill-opacity="0.92"/>
<circle cx="646" cy="114" r="1.45" fill="#ee8b2c" stroke="#d8761c" stroke-width="0.6" fill-opacity="0.92"/>
<circle cx="650.6" cy="114.7" r="1.45" fill="#5cc8c8" stroke="#2c9c9c" stroke-width="0.6" fill-opacity="0.92"/>
<circle cx="646.6" cy="119.3" r="1.45" fill="#0f5a5a" stroke="#0a4444" stroke-width="0.6" fill-opacity="0.92"/>
<circle cx="637.4" cy="120" r="1.45" fill="#ba8ace" stroke="#9c6cb2" stroke-width="0.6" fill-opacity="0.92"/>
<circle cx="641" cy="118.5" r="1.45" fill="#f29aa2" stroke="#e27c86" stroke-width="0.6" fill-opacity="0.92"/>
<circle cx="643.5" cy="117.8" r="1.45" fill="#f29aa2" stroke="#e27c86" stroke-width="0.6" fill-opacity="0.92"/>
<line x1="550.5" y1="16.0" x2="550.5" y2="132.8" stroke="#444" stroke-width="1"/>
<line x1="546.7" y1="132.80" x2="550.5" y2="132.80" stroke="#555" stroke-width="1"/>
<text x="543.0" y="135.3" font-size="7.0" text-anchor="end" font-weight="normal" fill="#333" >0</text>
<line x1="546.7" y1="116.11" x2="550.5" y2="116.11" stroke="#555" stroke-width="1"/>
<text x="543.0" y="118.61428571428573" font-size="7.0" text-anchor="end" font-weight="normal" fill="#333" >10</text>
<line x1="546.7" y1="99.43" x2="550.5" y2="99.43" stroke="#555" stroke-width="1"/>
<text x="543.0" y="101.92857142857144" font-size="7.0" text-anchor="end" font-weight="normal" fill="#333" >20</text>
<line x1="546.7" y1="82.74" x2="550.5" y2="82.74" stroke="#555" stroke-width="1"/>
<text x="543.0" y="85.24285714285715" font-size="7.0" text-anchor="end" font-weight="normal" fill="#333" >30</text>
<line x1="546.7" y1="66.06" x2="550.5" y2="66.06" stroke="#555" stroke-width="1"/>
<text x="543.0" y="68.55714285714286" font-size="7.0" text-anchor="end" font-weight="normal" fill="#333" >40</text>
<line x1="546.7" y1="49.37" x2="550.5" y2="49.37" stroke="#555" stroke-width="1"/>
<text x="543.0" y="51.87142857142857" font-size="7.0" text-anchor="end" font-weight="normal" fill="#333" >50</text>
<line x1="546.7" y1="32.69" x2="550.5" y2="32.69" stroke="#555" stroke-width="1"/>
<text x="543.0" y="35.18571428571428" font-size="7.0" text-anchor="end" font-weight="normal" fill="#333" >60</text>
<line x1="546.7" y1="16.00" x2="550.5" y2="16.00" stroke="#555" stroke-width="1"/>
<text x="543.0" y="18.5" font-size="7.0" text-anchor="end" font-weight="normal" fill="#333" >70</text>
<line x1="555.2" y1="138.0" x2="670.21" y2="138.0" stroke="#333" stroke-width="1"/>
<line x1="555.20" y1="138.0" x2="555.20" y2="141.6" stroke="#444" stroke-width="1"/>
<text x="555.20" y="160.2" font-size="6.5" text-anchor="middle" font-weight="normal" fill="#444" >0</text>
<line x1="571.63" y1="138.0" x2="571.63" y2="141.6" stroke="#444" stroke-width="1"/>
<text x="571.63" y="160.2" font-size="6.5" text-anchor="middle" font-weight="normal" fill="#444" >1</text>
<line x1="588.06" y1="138.0" x2="588.06" y2="141.6" stroke="#444" stroke-width="1"/>
<text x="588.06" y="160.2" font-size="6.5" text-anchor="middle" font-weight="normal" fill="#444" >2</text>
<line x1="604.49" y1="138.0" x2="604.49" y2="141.6" stroke="#444" stroke-width="1"/>
<text x="604.49" y="160.2" font-size="6.5" text-anchor="middle" font-weight="normal" fill="#444" >3</text>
<line x1="620.92" y1="138.0" x2="620.92" y2="141.6" stroke="#444" stroke-width="1"/>
<text x="620.92" y="160.2" font-size="6.5" text-anchor="middle" font-weight="normal" fill="#444" >4</text>
<line x1="637.35" y1="138.0" x2="637.35" y2="141.6" stroke="#444" stroke-width="1"/>
<text x="637.35" y="160.2" font-size="6.5" text-anchor="middle" font-weight="normal" fill="#444" >5</text>
<line x1="653.78" y1="138.0" x2="653.78" y2="141.6" stroke="#444" stroke-width="1"/>
<text x="653.78" y="160.2" font-size="6.5" text-anchor="middle" font-weight="normal" fill="#444" >6</text>
<line x1="670.21" y1="138.0" x2="670.21" y2="141.6" stroke="#444" stroke-width="1"/>
<text x="670.21" y="160.2" font-size="6.5" text-anchor="middle" font-weight="normal" fill="#444" >7</text>
<g transform="translate(567.9,172.90)" fill="#222">
<text x="-0.8" y="0" font-size="9.8">Expected</text>
<text x="46.4" y="0" font-size="9.8">&#8722;</text>
<text x="55.2" y="0" font-size="9.8">log</text>
<text x="69.1" y="1.4" font-size="6.9">10</text>
<text x="76.0" y="0" font-size="9.8">(</text>
<text x="80.9" y="0" font-size="9.4" font-style="italic">p</text>
<text x="87.4" y="0" font-size="9.8">)</text>
</g>
<g transform="translate(524.3,120.50) rotate(-90)" fill="#222">
<text x="-0.45" y="0" font-size="9.6">Observed</text>
<text x="49.2" y="0" font-size="9.8">&#8722;</text>
<text x="57.9" y="0" font-size="9.6">log</text>
<text x="70.0" y="1.4" font-size="6.9">10</text>
<text x="77.4" y="0" font-size="9.8">(</text>
<text x="81.0" y="0" font-size="9.4" font-style="italic">p</text>
<text x="88.4" y="0" font-size="9.8">)</text>
</g>
<line x1="555.2" y1="324.8" x2="676.53" y2="298.23" stroke="#8e3530" stroke-width="1" stroke-dasharray="3.2,2.4"/>
<polygon points="585.00,316.60 610.00,309.80 630.00,304.80 645.00,301.20 652.90,298.60 652.90,306.00 645.00,307.00 630.00,310.00 610.00,314.00 585.00,318.00" fill="#2f9e7c"/>
<polygon points="553.60,323.30 590.00,315.60 610.00,311.20 630.00,306.30 645.00,302.80 652.90,300.30 652.90,306.20 645.00,308.60 630.00,311.30 610.00,315.30 590.00,320.20 553.60,326.40" fill="#0e5b5b"/>
<polygon points="585.00,321.10 610.00,314.60 630.00,310.40 645.00,307.60 645.00,308.70 630.00,311.40 610.00,315.50 585.00,321.10" fill="#2a2458"/>
<polygon points="653.00,298.20 657.40,298.20 657.40,300.50 653.00,300.50" fill="#9cc070"/>
<polygon points="653.00,300.50 657.40,300.50 657.40,302.60 653.00,302.60" fill="#c8b0c8"/>
<polygon points="653.00,302.60 657.40,302.60 657.40,304.60 653.00,304.60" fill="#d06a30"/>
<circle cx="657.1" cy="208.8" r="1.45" fill="#7aaee4" stroke="#5b8ccb" stroke-width="0.6" fill-opacity="0.92"/>
<circle cx="657" cy="216.2" r="1.45" fill="#f29aa2" stroke="#e27c86" stroke-width="0.6" fill-opacity="0.92"/>
<circle cx="655.8" cy="224" r="1.45" fill="#a8e6c2" stroke="#86d4a6" stroke-width="0.6" fill-opacity="0.92"/>
<circle cx="655.6" cy="229.9" r="1.45" fill="#f7c48e" stroke="#efac6a" stroke-width="0.6" fill-opacity="0.92"/>
<circle cx="652.3" cy="276.5" r="1.45" fill="#f29aa2" stroke="#e27c86" stroke-width="0.6" fill-opacity="0.92"/>
<circle cx="652.5" cy="284.5" r="1.45" fill="#8274be" stroke="#4c3c8c" stroke-width="0.6" fill-opacity="0.92"/>
<circle cx="652.7" cy="296.3" r="1.45" fill="#5cc8c8" stroke="#2c9c9c" stroke-width="0.6" fill-opacity="0.92"/>
<line x1="550.6" y1="208.2" x2="550.6" y2="324.8" stroke="#444" stroke-width="1"/>
<line x1="546.8000000000001" y1="324.80" x2="550.6" y2="324.80" stroke="#555" stroke-width="1"/>
<text x="543.1" y="327.3" font-size="7.0" text-anchor="end" font-weight="normal" fill="#333" >0</text>
<line x1="546.8000000000001" y1="306.60" x2="550.6" y2="306.60" stroke="#555" stroke-width="1"/>
<text x="543.1" y="309.1" font-size="7.0" text-anchor="end" font-weight="normal" fill="#333" >5</text>
<line x1="546.8000000000001" y1="288.40" x2="550.6" y2="288.40" stroke="#555" stroke-width="1"/>
<text x="543.1" y="290.9" font-size="7.0" text-anchor="end" font-weight="normal" fill="#333" >10</text>
<line x1="546.8000000000001" y1="270.20" x2="550.6" y2="270.20" stroke="#555" stroke-width="1"/>
<text x="543.1" y="272.7" font-size="7.0" text-anchor="end" font-weight="normal" fill="#333" >15</text>
<line x1="546.8000000000001" y1="252.00" x2="550.6" y2="252.00" stroke="#555" stroke-width="1"/>
<text x="543.1" y="254.5" font-size="7.0" text-anchor="end" font-weight="normal" fill="#333" >20</text>
<line x1="546.8000000000001" y1="233.80" x2="550.6" y2="233.80" stroke="#555" stroke-width="1"/>
<text x="543.1" y="236.3" font-size="7.0" text-anchor="end" font-weight="normal" fill="#333" >25</text>
<line x1="546.8000000000001" y1="215.60" x2="550.6" y2="215.60" stroke="#555" stroke-width="1"/>
<text x="543.1" y="218.1" font-size="7.0" text-anchor="end" font-weight="normal" fill="#333" >30</text>
<line x1="555.2" y1="329.2" x2="671.54" y2="329.2" stroke="#333" stroke-width="1"/>
<line x1="555.20" y1="329.2" x2="555.20" y2="332.8" stroke="#444" stroke-width="1"/>
<text x="555.20" y="351.4" font-size="6.5" text-anchor="middle" font-weight="normal" fill="#444" >0</text>
<line x1="571.82" y1="329.2" x2="571.82" y2="332.8" stroke="#444" stroke-width="1"/>
<text x="571.82" y="351.4" font-size="6.5" text-anchor="middle" font-weight="normal" fill="#444" >1</text>
<line x1="588.44" y1="329.2" x2="588.44" y2="332.8" stroke="#444" stroke-width="1"/>
<text x="588.44" y="351.4" font-size="6.5" text-anchor="middle" font-weight="normal" fill="#444" >2</text>
<line x1="605.06" y1="329.2" x2="605.06" y2="332.8" stroke="#444" stroke-width="1"/>
<text x="605.06" y="351.4" font-size="6.5" text-anchor="middle" font-weight="normal" fill="#444" >3</text>
<line x1="621.68" y1="329.2" x2="621.68" y2="332.8" stroke="#444" stroke-width="1"/>
<text x="621.68" y="351.4" font-size="6.5" text-anchor="middle" font-weight="normal" fill="#444" >4</text>
<line x1="638.30" y1="329.2" x2="638.30" y2="332.8" stroke="#444" stroke-width="1"/>
<text x="638.30" y="351.4" font-size="6.5" text-anchor="middle" font-weight="normal" fill="#444" >5</text>
<line x1="654.92" y1="329.2" x2="654.92" y2="332.8" stroke="#444" stroke-width="1"/>
<text x="654.92" y="351.4" font-size="6.5" text-anchor="middle" font-weight="normal" fill="#444" >6</text>
<line x1="671.54" y1="329.2" x2="671.54" y2="332.8" stroke="#444" stroke-width="1"/>
<text x="671.54" y="351.4" font-size="6.5" text-anchor="middle" font-weight="normal" fill="#444" >7</text>
<g transform="translate(567.9,364.10)" fill="#222">
<text x="-0.8" y="0" font-size="9.8">Expected</text>
<text x="46.4" y="0" font-size="9.8">&#8722;</text>
<text x="55.2" y="0" font-size="9.8">log</text>
<text x="69.1" y="1.4" font-size="6.9">10</text>
<text x="76.0" y="0" font-size="9.8">(</text>
<text x="80.9" y="0" font-size="9.4" font-style="italic">p</text>
<text x="87.4" y="0" font-size="9.8">)</text>
</g>
<g transform="translate(524.3,313.30) rotate(-90)" fill="#222">
<text x="-0.45" y="0" font-size="9.6">Observed</text>
<text x="49.2" y="0" font-size="9.8">&#8722;</text>
<text x="57.9" y="0" font-size="9.6">log</text>
<text x="70.0" y="1.4" font-size="6.9">10</text>
<text x="77.4" y="0" font-size="9.8">(</text>
<text x="81.0" y="0" font-size="9.4" font-style="italic">p</text>
<text x="88.4" y="0" font-size="9.8">)</text>
</g>
<line x1="555.3" y1="508.5" x2="676.48" y2="485.53" stroke="#8e3530" stroke-width="1" stroke-dasharray="3.2,2.4"/>
<polygon points="600.00,499.00 610.00,495.80 618.00,493.00 624.00,491.30 630.00,490.90 636.00,491.20 641.00,491.60 641.00,492.80 636.00,493.60 630.00,494.20 624.00,495.20 618.00,496.60 610.00,498.40 600.00,499.40" fill="#d2452c"/>
<polygon points="602.00,499.20 615.00,495.90 625.00,493.60 635.00,492.60 643.00,492.00 643.00,494.40 635.00,495.60 625.00,497.20 615.00,498.80 602.00,500.00" fill="#e8903c"/>
<polygon points="598.00,500.00 612.00,497.20 628.00,494.20 640.00,491.90 648.00,490.20 655.00,488.20 655.00,492.40 648.00,494.80 640.00,496.20 628.00,498.60 612.00,500.60 598.00,501.00" fill="#4fb47e"/>
<polygon points="553.60,506.90 580.00,501.70 610.00,497.90 630.00,495.30 645.00,493.00 652.00,491.20 656.30,488.60 656.30,493.40 652.00,495.00 645.00,496.50 630.00,499.00 610.00,501.60 580.00,506.00 553.60,510.40" fill="#0e5858"/>
<polygon points="646.00,492.40 650.00,490.40 654.00,488.00 657.50,486.60 657.50,489.60 654.00,490.80 650.00,491.60 646.00,493.20" fill="#155f5f"/>
<polygon points="647.00,496.20 652.00,494.90 652.00,495.60 647.00,496.90" fill="#8fe0e0"/>
<circle cx="657.5" cy="488.6" r="1.1" fill="#c0503a"/>
<circle cx="659.3" cy="488.1" r="1.1" fill="#b8a040"/>
<circle cx="655.8" cy="392.6" r="1.45" fill="#a8e6c2" stroke="#86d4a6" stroke-width="0.6" fill-opacity="0.92"/>
<circle cx="657" cy="446.6" r="1.45" fill="#4a82c4" stroke="#2f63a6" stroke-width="0.6" fill-opacity="0.92"/>
<circle cx="657" cy="455.5" r="1.45" fill="#f29aa2" stroke="#e27c86" stroke-width="0.6" fill-opacity="0.92"/>
<circle cx="655" cy="462.5" r="1.45" fill="#f7c48e" stroke="#efac6a" stroke-width="0.6" fill-opacity="0.92"/>
<circle cx="649.2" cy="483.9" r="1.45" fill="#7aaee4" stroke="#5b8ccb" stroke-width="0.6" fill-opacity="0.92"/>
<circle cx="652" cy="482.5" r="1.45" fill="#7aaee4" stroke="#5b8ccb" stroke-width="0.6" fill-opacity="0.92"/>
<line x1="550.4" y1="393.2" x2="550.4" y2="508.5" stroke="#444" stroke-width="1"/>
<line x1="546.6" y1="508.50" x2="550.4" y2="508.50" stroke="#555" stroke-width="1"/>
<text x="542.9" y="511.0" font-size="7.0" text-anchor="end" font-weight="normal" fill="#333" >0</text>
<line x1="546.6" y1="477.03" x2="550.4" y2="477.03" stroke="#555" stroke-width="1"/>
<text x="542.9" y="479.53333333333336" font-size="7.0" text-anchor="end" font-weight="normal" fill="#333" >10</text>
<line x1="546.6" y1="445.57" x2="550.4" y2="445.57" stroke="#555" stroke-width="1"/>
<text x="542.9" y="448.06666666666666" font-size="7.0" text-anchor="end" font-weight="normal" fill="#333" >20</text>
<line x1="546.6" y1="414.10" x2="550.4" y2="414.10" stroke="#555" stroke-width="1"/>
<text x="542.9" y="416.6" font-size="7.0" text-anchor="end" font-weight="normal" fill="#333" >30</text>
<line x1="555.3" y1="513.5" x2="671.50" y2="513.5" stroke="#333" stroke-width="1"/>
<line x1="555.30" y1="513.5" x2="555.30" y2="517.1" stroke="#444" stroke-width="1"/>
<text x="555.30" y="535.7" font-size="6.5" text-anchor="middle" font-weight="normal" fill="#444" >0</text>
<line x1="571.90" y1="513.5" x2="571.90" y2="517.1" stroke="#444" stroke-width="1"/>
<text x="571.90" y="535.7" font-size="6.5" text-anchor="middle" font-weight="normal" fill="#444" >1</text>
<line x1="588.50" y1="513.5" x2="588.50" y2="517.1" stroke="#444" stroke-width="1"/>
<text x="588.50" y="535.7" font-size="6.5" text-anchor="middle" font-weight="normal" fill="#444" >2</text>
<line x1="605.10" y1="513.5" x2="605.10" y2="517.1" stroke="#444" stroke-width="1"/>
<text x="605.10" y="535.7" font-size="6.5" text-anchor="middle" font-weight="normal" fill="#444" >3</text>
<line x1="621.70" y1="513.5" x2="621.70" y2="517.1" stroke="#444" stroke-width="1"/>
<text x="621.70" y="535.7" font-size="6.5" text-anchor="middle" font-weight="normal" fill="#444" >4</text>
<line x1="638.30" y1="513.5" x2="638.30" y2="517.1" stroke="#444" stroke-width="1"/>
<text x="638.30" y="535.7" font-size="6.5" text-anchor="middle" font-weight="normal" fill="#444" >5</text>
<line x1="654.90" y1="513.5" x2="654.90" y2="517.1" stroke="#444" stroke-width="1"/>
<text x="654.90" y="535.7" font-size="6.5" text-anchor="middle" font-weight="normal" fill="#444" >6</text>
<line x1="671.50" y1="513.5" x2="671.50" y2="517.1" stroke="#444" stroke-width="1"/>
<text x="671.50" y="535.7" font-size="6.5" text-anchor="middle" font-weight="normal" fill="#444" >7</text>
<g transform="translate(567.9,548.40)" fill="#222">
<text x="-0.8" y="0" font-size="9.8">Expected</text>
<text x="46.4" y="0" font-size="9.8">&#8722;</text>
<text x="55.2" y="0" font-size="9.8">log</text>
<text x="69.1" y="1.4" font-size="6.9">10</text>
<text x="76.0" y="0" font-size="9.8">(</text>
<text x="80.9" y="0" font-size="9.4" font-style="italic">p</text>
<text x="87.4" y="0" font-size="9.8">)</text>
</g>
<g transform="translate(524.3,495.80) rotate(-90)" fill="#222">
<text x="-0.45" y="0" font-size="9.6">Observed</text>
<text x="49.2" y="0" font-size="9.8">&#8722;</text>
<text x="57.9" y="0" font-size="9.6">log</text>
<text x="70.0" y="1.4" font-size="6.9">10</text>
<text x="77.4" y="0" font-size="9.8">(</text>
<text x="81.0" y="0" font-size="9.4" font-style="italic">p</text>
<text x="88.4" y="0" font-size="9.8">)</text>
</g>
</svg>
</body></html>
